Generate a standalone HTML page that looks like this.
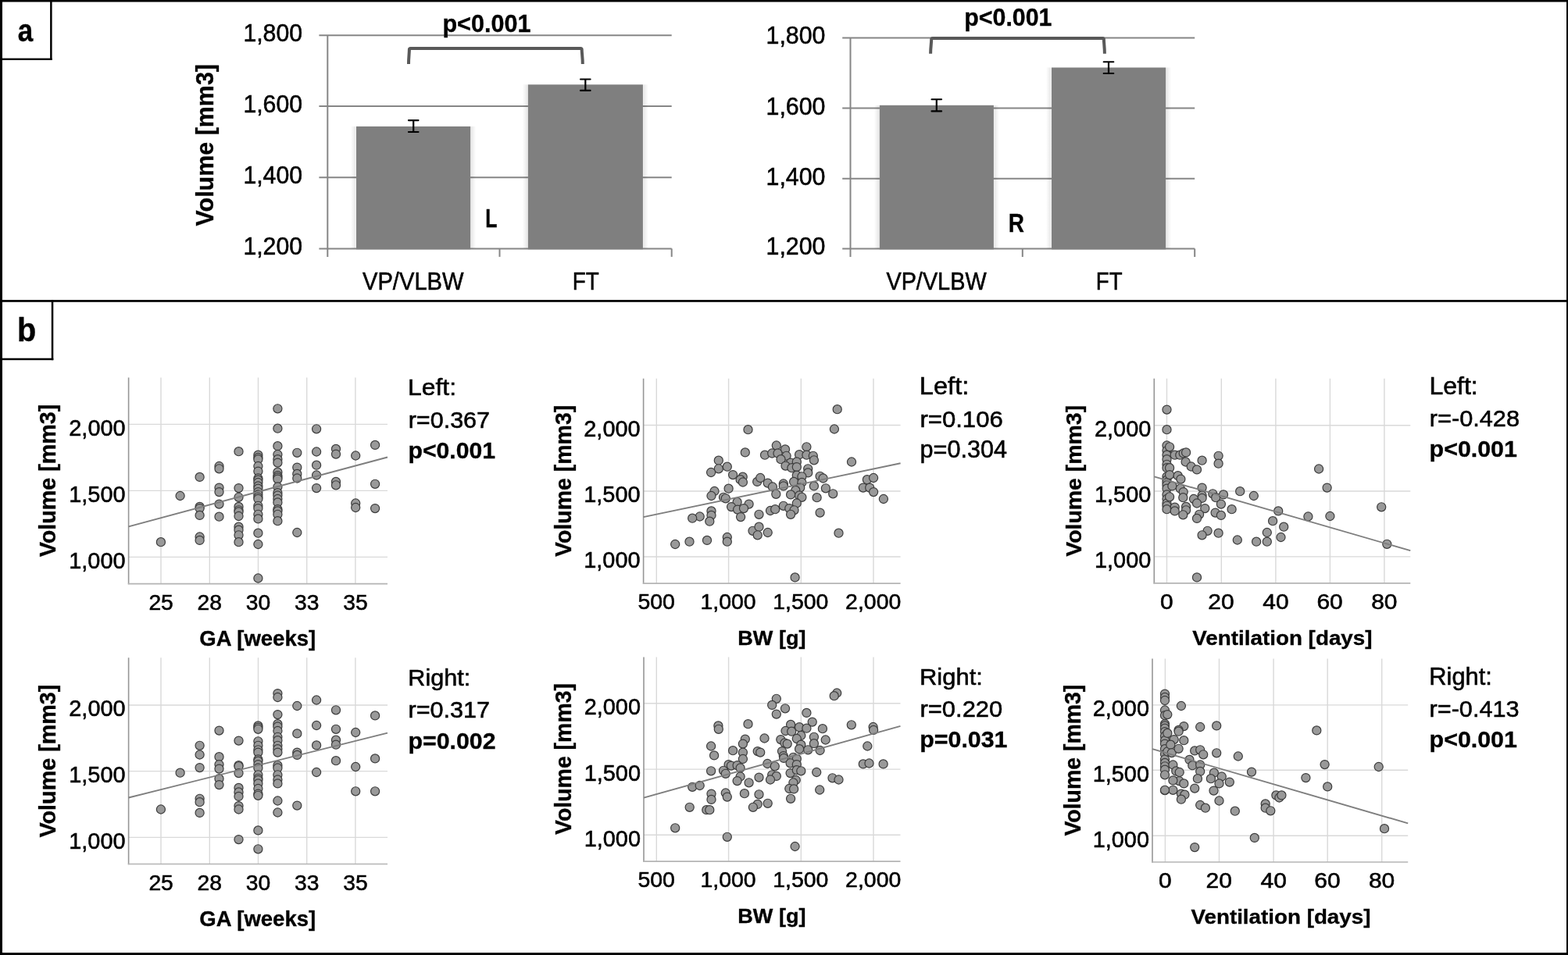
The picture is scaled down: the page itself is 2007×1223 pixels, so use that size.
<!DOCTYPE html>
<html><head><meta charset="utf-8"><title>Figure</title>
<style>html,body{margin:0;padding:0;background:#fff;width:2007px;height:1223px;overflow:hidden;} svg{display:block;} text{font-family:"Liberation Sans", Arial, sans-serif;} text[font-weight=normal]{stroke:#000;stroke-width:0.55px;} text[font-weight=bold]{stroke:#000;stroke-width:0.35px;}</style>
</head><body>
<svg width="2007" height="1223" viewBox="0 0 2007 1223">
<defs>
<linearGradient id="shl" x1="0" x2="1" y1="0" y2="0"><stop offset="0" stop-color="#000" stop-opacity="0"/><stop offset="0.85" stop-color="#000" stop-opacity="0.09"/><stop offset="1" stop-color="#000" stop-opacity="0.02"/></linearGradient>
<linearGradient id="shr" x1="1" x2="0" y1="0" y2="0"><stop offset="0" stop-color="#000" stop-opacity="0"/><stop offset="0.85" stop-color="#000" stop-opacity="0.09"/><stop offset="1" stop-color="#000" stop-opacity="0.02"/></linearGradient>
</defs>
<rect x="0" y="0" width="2007" height="1223" fill="#fff"/>
<rect x="0.00" y="0.00" width="2007.00" height="2.50" fill="#000"/>
<rect x="0.00" y="0.00" width="3.00" height="1223.00" fill="#000"/>
<rect x="2005.00" y="0.00" width="2.00" height="1223.00" fill="#000"/>
<rect x="0.00" y="1220.00" width="2007.00" height="3.00" fill="#000"/>
<rect x="0.00" y="384.10" width="2007.00" height="2.70" fill="#000"/>
<rect x="64.10" y="0.00" width="2.50" height="77.00" fill="#000"/>
<rect x="0.00" y="74.60" width="66.60" height="2.40" fill="#000"/>
<rect x="65.80" y="384.10" width="2.50" height="77.10" fill="#000"/>
<rect x="0.00" y="458.70" width="68.30" height="2.50" fill="#000"/>
<line x1="408.40" y1="45.20" x2="859.70" y2="45.20" stroke="#868686" stroke-width="2.0" stroke-linecap="butt"/>
<line x1="408.40" y1="136.10" x2="859.70" y2="136.10" stroke="#868686" stroke-width="2.0" stroke-linecap="butt"/>
<line x1="408.40" y1="227.30" x2="859.70" y2="227.30" stroke="#868686" stroke-width="2.0" stroke-linecap="butt"/>
<line x1="408.40" y1="318.40" x2="859.70" y2="318.40" stroke="#868686" stroke-width="2.0" stroke-linecap="butt"/>
<line x1="419.30" y1="45.20" x2="419.30" y2="328.90" stroke="#868686" stroke-width="2.0" stroke-linecap="butt"/>
<line x1="639.50" y1="318.40" x2="639.50" y2="328.90" stroke="#868686" stroke-width="2.0" stroke-linecap="butt"/>
<line x1="859.70" y1="318.40" x2="859.70" y2="328.90" stroke="#868686" stroke-width="2.0" stroke-linecap="butt"/>
<rect x="449.00" y="161.90" width="7" height="156.50" fill="url(#shl)"/>
<rect x="602.20" y="161.90" width="7" height="156.50" fill="url(#shr)"/>
<rect x="456.00" y="161.90" width="146.20" height="157.40" fill="#7f7f7f"/>
<rect x="668.80" y="108.30" width="7" height="210.10" fill="url(#shl)"/>
<rect x="822.90" y="108.30" width="7" height="210.10" fill="url(#shr)"/>
<rect x="675.80" y="108.30" width="147.10" height="211.00" fill="#7f7f7f"/>
<line x1="529.20" y1="154.10" x2="529.20" y2="169.00" stroke="#000" stroke-width="2.2" stroke-linecap="butt"/>
<line x1="522.90" y1="154.10" x2="535.50" y2="154.10" stroke="#000" stroke-width="2.1" stroke-linecap="round"/>
<line x1="522.90" y1="169.00" x2="535.50" y2="169.00" stroke="#000" stroke-width="2.1" stroke-linecap="round"/>
<line x1="749.30" y1="101.50" x2="749.30" y2="115.90" stroke="#000" stroke-width="2.2" stroke-linecap="butt"/>
<line x1="743.00" y1="101.50" x2="755.60" y2="101.50" stroke="#000" stroke-width="2.1" stroke-linecap="round"/>
<line x1="743.00" y1="115.90" x2="755.60" y2="115.90" stroke="#000" stroke-width="2.1" stroke-linecap="round"/>
<path d="M523.00,81.90 C523.00,73.90 523.90,68.00 523.90,63.60 Q523.90,62.00 525.50,62.00 L743.10,62.00 Q744.70,62.00 744.70,63.60 C744.70,68.00 745.80,73.90 745.80,81.90" fill="none" stroke="#595959" stroke-width="4"/>
<line x1="1078.20" y1="48.40" x2="1529.20" y2="48.40" stroke="#868686" stroke-width="2.0" stroke-linecap="butt"/>
<line x1="1078.20" y1="138.60" x2="1529.20" y2="138.60" stroke="#868686" stroke-width="2.0" stroke-linecap="butt"/>
<line x1="1078.20" y1="228.80" x2="1529.20" y2="228.80" stroke="#868686" stroke-width="2.0" stroke-linecap="butt"/>
<line x1="1078.20" y1="318.50" x2="1529.20" y2="318.50" stroke="#868686" stroke-width="2.0" stroke-linecap="butt"/>
<line x1="1088.50" y1="48.40" x2="1088.50" y2="329.00" stroke="#868686" stroke-width="2.0" stroke-linecap="butt"/>
<line x1="1308.80" y1="318.50" x2="1308.80" y2="329.00" stroke="#868686" stroke-width="2.0" stroke-linecap="butt"/>
<line x1="1529.20" y1="318.50" x2="1529.20" y2="329.00" stroke="#868686" stroke-width="2.0" stroke-linecap="butt"/>
<rect x="1118.80" y="134.80" width="7" height="183.70" fill="url(#shl)"/>
<rect x="1271.90" y="134.80" width="7" height="183.70" fill="url(#shr)"/>
<rect x="1125.80" y="134.80" width="146.10" height="184.60" fill="#7f7f7f"/>
<rect x="1339.00" y="86.50" width="7" height="232.00" fill="url(#shl)"/>
<rect x="1492.20" y="86.50" width="7" height="232.00" fill="url(#shr)"/>
<rect x="1346.00" y="86.50" width="146.20" height="232.90" fill="#7f7f7f"/>
<line x1="1198.80" y1="127.20" x2="1198.80" y2="142.40" stroke="#000" stroke-width="2.2" stroke-linecap="butt"/>
<line x1="1192.50" y1="127.20" x2="1205.10" y2="127.20" stroke="#000" stroke-width="2.1" stroke-linecap="round"/>
<line x1="1192.50" y1="142.40" x2="1205.10" y2="142.40" stroke="#000" stroke-width="2.1" stroke-linecap="round"/>
<line x1="1419.00" y1="79.20" x2="1419.00" y2="94.00" stroke="#000" stroke-width="2.2" stroke-linecap="butt"/>
<line x1="1412.70" y1="79.20" x2="1425.30" y2="79.20" stroke="#000" stroke-width="2.1" stroke-linecap="round"/>
<line x1="1412.70" y1="94.00" x2="1425.30" y2="94.00" stroke="#000" stroke-width="2.1" stroke-linecap="round"/>
<path d="M1191.10,68.80 C1191.10,60.80 1192.20,55.00 1192.20,50.60 Q1192.20,49.00 1193.80,49.00 L1411.30,49.00 Q1412.90,49.00 1412.90,50.60 C1412.90,55.00 1413.90,60.80 1413.90,68.80" fill="none" stroke="#595959" stroke-width="4"/>
<line x1="206.00" y1="483.50" x2="206.00" y2="747.60" stroke="#d9d9d9" stroke-width="1.4" stroke-linecap="butt"/>
<line x1="268.30" y1="483.50" x2="268.30" y2="747.60" stroke="#d9d9d9" stroke-width="1.4" stroke-linecap="butt"/>
<line x1="330.50" y1="483.50" x2="330.50" y2="747.60" stroke="#d9d9d9" stroke-width="1.4" stroke-linecap="butt"/>
<line x1="392.70" y1="483.50" x2="392.70" y2="747.60" stroke="#d9d9d9" stroke-width="1.4" stroke-linecap="butt"/>
<line x1="454.90" y1="483.50" x2="454.90" y2="747.60" stroke="#d9d9d9" stroke-width="1.4" stroke-linecap="butt"/>
<line x1="164.60" y1="543.40" x2="496.00" y2="543.40" stroke="#d9d9d9" stroke-width="1.4" stroke-linecap="butt"/>
<line x1="164.60" y1="628.40" x2="496.00" y2="628.40" stroke="#d9d9d9" stroke-width="1.4" stroke-linecap="butt"/>
<line x1="164.60" y1="713.40" x2="496.00" y2="713.40" stroke="#d9d9d9" stroke-width="1.4" stroke-linecap="butt"/>
<line x1="164.60" y1="483.50" x2="164.60" y2="748.30" stroke="#969696" stroke-width="1.6" stroke-linecap="butt"/>
<line x1="163.80" y1="747.60" x2="496.00" y2="747.60" stroke="#b4b4b4" stroke-width="1.7" stroke-linecap="butt"/>
<circle cx="205.9" cy="694.2" r="5.55" fill="#999" stroke="#3c3c3c" stroke-width="1.2"/>
<circle cx="230.6" cy="635.0" r="5.55" fill="#999" stroke="#3c3c3c" stroke-width="1.2"/>
<circle cx="255.6" cy="610.9" r="5.55" fill="#999" stroke="#3c3c3c" stroke-width="1.2"/>
<circle cx="255.6" cy="648.9" r="5.55" fill="#999" stroke="#3c3c3c" stroke-width="1.2"/>
<circle cx="255.6" cy="651.1" r="5.55" fill="#999" stroke="#3c3c3c" stroke-width="1.2"/>
<circle cx="255.6" cy="659.9" r="5.55" fill="#999" stroke="#3c3c3c" stroke-width="1.2"/>
<circle cx="255.6" cy="687.5" r="5.55" fill="#999" stroke="#3c3c3c" stroke-width="1.2"/>
<circle cx="255.6" cy="691.9" r="5.55" fill="#999" stroke="#3c3c3c" stroke-width="1.2"/>
<circle cx="280.5" cy="597.0" r="5.55" fill="#999" stroke="#3c3c3c" stroke-width="1.2"/>
<circle cx="280.5" cy="600.3" r="5.55" fill="#999" stroke="#3c3c3c" stroke-width="1.2"/>
<circle cx="280.5" cy="624.6" r="5.55" fill="#999" stroke="#3c3c3c" stroke-width="1.2"/>
<circle cx="280.5" cy="630.1" r="5.55" fill="#999" stroke="#3c3c3c" stroke-width="1.2"/>
<circle cx="280.5" cy="645.6" r="5.55" fill="#999" stroke="#3c3c3c" stroke-width="1.2"/>
<circle cx="280.5" cy="661.7" r="5.55" fill="#999" stroke="#3c3c3c" stroke-width="1.2"/>
<circle cx="305.5" cy="578.2" r="5.55" fill="#999" stroke="#3c3c3c" stroke-width="1.2"/>
<circle cx="305.5" cy="625.1" r="5.55" fill="#999" stroke="#3c3c3c" stroke-width="1.2"/>
<circle cx="305.5" cy="636.8" r="5.55" fill="#999" stroke="#3c3c3c" stroke-width="1.2"/>
<circle cx="305.5" cy="648.9" r="5.55" fill="#999" stroke="#3c3c3c" stroke-width="1.2"/>
<circle cx="305.5" cy="653.3" r="5.55" fill="#999" stroke="#3c3c3c" stroke-width="1.2"/>
<circle cx="305.5" cy="655.5" r="5.55" fill="#999" stroke="#3c3c3c" stroke-width="1.2"/>
<circle cx="305.5" cy="661.0" r="5.55" fill="#999" stroke="#3c3c3c" stroke-width="1.2"/>
<circle cx="305.5" cy="674.7" r="5.55" fill="#999" stroke="#3c3c3c" stroke-width="1.2"/>
<circle cx="305.5" cy="678.7" r="5.55" fill="#999" stroke="#3c3c3c" stroke-width="1.2"/>
<circle cx="305.5" cy="685.3" r="5.55" fill="#999" stroke="#3c3c3c" stroke-width="1.2"/>
<circle cx="305.5" cy="694.2" r="5.55" fill="#999" stroke="#3c3c3c" stroke-width="1.2"/>
<circle cx="330.4" cy="582.7" r="5.55" fill="#999" stroke="#3c3c3c" stroke-width="1.2"/>
<circle cx="330.4" cy="586.0" r="5.55" fill="#999" stroke="#3c3c3c" stroke-width="1.2"/>
<circle cx="330.4" cy="588.2" r="5.55" fill="#999" stroke="#3c3c3c" stroke-width="1.2"/>
<circle cx="330.4" cy="597.0" r="5.55" fill="#999" stroke="#3c3c3c" stroke-width="1.2"/>
<circle cx="330.4" cy="603.6" r="5.55" fill="#999" stroke="#3c3c3c" stroke-width="1.2"/>
<circle cx="330.4" cy="612.5" r="5.55" fill="#999" stroke="#3c3c3c" stroke-width="1.2"/>
<circle cx="330.4" cy="614.7" r="5.55" fill="#999" stroke="#3c3c3c" stroke-width="1.2"/>
<circle cx="330.4" cy="618.0" r="5.55" fill="#999" stroke="#3c3c3c" stroke-width="1.2"/>
<circle cx="330.4" cy="622.4" r="5.55" fill="#999" stroke="#3c3c3c" stroke-width="1.2"/>
<circle cx="330.4" cy="625.7" r="5.55" fill="#999" stroke="#3c3c3c" stroke-width="1.2"/>
<circle cx="330.4" cy="630.1" r="5.55" fill="#999" stroke="#3c3c3c" stroke-width="1.2"/>
<circle cx="330.4" cy="633.4" r="5.55" fill="#999" stroke="#3c3c3c" stroke-width="1.2"/>
<circle cx="330.4" cy="636.8" r="5.55" fill="#999" stroke="#3c3c3c" stroke-width="1.2"/>
<circle cx="330.4" cy="639.0" r="5.55" fill="#999" stroke="#3c3c3c" stroke-width="1.2"/>
<circle cx="330.4" cy="647.8" r="5.55" fill="#999" stroke="#3c3c3c" stroke-width="1.2"/>
<circle cx="330.4" cy="651.1" r="5.55" fill="#999" stroke="#3c3c3c" stroke-width="1.2"/>
<circle cx="330.4" cy="658.8" r="5.55" fill="#999" stroke="#3c3c3c" stroke-width="1.2"/>
<circle cx="330.4" cy="664.4" r="5.55" fill="#999" stroke="#3c3c3c" stroke-width="1.2"/>
<circle cx="330.4" cy="682.7" r="5.55" fill="#999" stroke="#3c3c3c" stroke-width="1.2"/>
<circle cx="330.4" cy="697.0" r="5.55" fill="#999" stroke="#3c3c3c" stroke-width="1.2"/>
<circle cx="330.4" cy="740.5" r="5.55" fill="#999" stroke="#3c3c3c" stroke-width="1.2"/>
<circle cx="355.4" cy="523.3" r="5.55" fill="#999" stroke="#3c3c3c" stroke-width="1.2"/>
<circle cx="355.4" cy="548.7" r="5.55" fill="#999" stroke="#3c3c3c" stroke-width="1.2"/>
<circle cx="355.4" cy="571.2" r="5.55" fill="#999" stroke="#3c3c3c" stroke-width="1.2"/>
<circle cx="355.4" cy="582.0" r="5.55" fill="#999" stroke="#3c3c3c" stroke-width="1.2"/>
<circle cx="355.4" cy="588.2" r="5.55" fill="#999" stroke="#3c3c3c" stroke-width="1.2"/>
<circle cx="355.4" cy="592.6" r="5.55" fill="#999" stroke="#3c3c3c" stroke-width="1.2"/>
<circle cx="355.4" cy="604.7" r="5.55" fill="#999" stroke="#3c3c3c" stroke-width="1.2"/>
<circle cx="355.4" cy="609.2" r="5.55" fill="#999" stroke="#3c3c3c" stroke-width="1.2"/>
<circle cx="355.4" cy="611.4" r="5.55" fill="#999" stroke="#3c3c3c" stroke-width="1.2"/>
<circle cx="355.4" cy="613.6" r="5.55" fill="#999" stroke="#3c3c3c" stroke-width="1.2"/>
<circle cx="355.4" cy="623.5" r="5.55" fill="#999" stroke="#3c3c3c" stroke-width="1.2"/>
<circle cx="355.4" cy="631.2" r="5.55" fill="#999" stroke="#3c3c3c" stroke-width="1.2"/>
<circle cx="355.4" cy="634.5" r="5.55" fill="#999" stroke="#3c3c3c" stroke-width="1.2"/>
<circle cx="355.4" cy="639.0" r="5.55" fill="#999" stroke="#3c3c3c" stroke-width="1.2"/>
<circle cx="355.4" cy="643.4" r="5.55" fill="#999" stroke="#3c3c3c" stroke-width="1.2"/>
<circle cx="355.4" cy="652.2" r="5.55" fill="#999" stroke="#3c3c3c" stroke-width="1.2"/>
<circle cx="355.4" cy="654.4" r="5.55" fill="#999" stroke="#3c3c3c" stroke-width="1.2"/>
<circle cx="355.4" cy="658.8" r="5.55" fill="#999" stroke="#3c3c3c" stroke-width="1.2"/>
<circle cx="355.4" cy="667.2" r="5.55" fill="#999" stroke="#3c3c3c" stroke-width="1.2"/>
<circle cx="380.3" cy="579.8" r="5.55" fill="#999" stroke="#3c3c3c" stroke-width="1.2"/>
<circle cx="380.3" cy="598.6" r="5.55" fill="#999" stroke="#3c3c3c" stroke-width="1.2"/>
<circle cx="380.3" cy="606.9" r="5.55" fill="#999" stroke="#3c3c3c" stroke-width="1.2"/>
<circle cx="380.3" cy="612.5" r="5.55" fill="#999" stroke="#3c3c3c" stroke-width="1.2"/>
<circle cx="380.3" cy="682.0" r="5.55" fill="#999" stroke="#3c3c3c" stroke-width="1.2"/>
<circle cx="405.1" cy="549.3" r="5.55" fill="#999" stroke="#3c3c3c" stroke-width="1.2"/>
<circle cx="405.1" cy="578.5" r="5.55" fill="#999" stroke="#3c3c3c" stroke-width="1.2"/>
<circle cx="405.1" cy="595.7" r="5.55" fill="#999" stroke="#3c3c3c" stroke-width="1.2"/>
<circle cx="405.1" cy="608.5" r="5.55" fill="#999" stroke="#3c3c3c" stroke-width="1.2"/>
<circle cx="405.1" cy="625.1" r="5.55" fill="#999" stroke="#3c3c3c" stroke-width="1.2"/>
<circle cx="430.0" cy="574.9" r="5.55" fill="#999" stroke="#3c3c3c" stroke-width="1.2"/>
<circle cx="430.0" cy="581.6" r="5.55" fill="#999" stroke="#3c3c3c" stroke-width="1.2"/>
<circle cx="430.0" cy="616.9" r="5.55" fill="#999" stroke="#3c3c3c" stroke-width="1.2"/>
<circle cx="430.0" cy="621.3" r="5.55" fill="#999" stroke="#3c3c3c" stroke-width="1.2"/>
<circle cx="455.2" cy="583.5" r="5.55" fill="#999" stroke="#3c3c3c" stroke-width="1.2"/>
<circle cx="455.2" cy="644.5" r="5.55" fill="#999" stroke="#3c3c3c" stroke-width="1.2"/>
<circle cx="455.2" cy="650.0" r="5.55" fill="#999" stroke="#3c3c3c" stroke-width="1.2"/>
<circle cx="480.1" cy="569.9" r="5.55" fill="#999" stroke="#3c3c3c" stroke-width="1.2"/>
<circle cx="480.1" cy="619.8" r="5.55" fill="#999" stroke="#3c3c3c" stroke-width="1.2"/>
<circle cx="480.1" cy="651.1" r="5.55" fill="#999" stroke="#3c3c3c" stroke-width="1.2"/>
<line x1="164.60" y1="674.30" x2="496.00" y2="585.50" stroke="#7e7e7e" stroke-width="1.9" stroke-linecap="butt"/>
<line x1="840.30" y1="484.80" x2="840.30" y2="747.10" stroke="#d9d9d9" stroke-width="1.4" stroke-linecap="butt"/>
<line x1="932.60" y1="484.80" x2="932.60" y2="747.10" stroke="#d9d9d9" stroke-width="1.4" stroke-linecap="butt"/>
<line x1="1025.30" y1="484.80" x2="1025.30" y2="747.10" stroke="#d9d9d9" stroke-width="1.4" stroke-linecap="butt"/>
<line x1="1118.00" y1="484.80" x2="1118.00" y2="747.10" stroke="#d9d9d9" stroke-width="1.4" stroke-linecap="butt"/>
<line x1="823.60" y1="544.50" x2="1152.60" y2="544.50" stroke="#d9d9d9" stroke-width="1.4" stroke-linecap="butt"/>
<line x1="823.60" y1="629.00" x2="1152.60" y2="629.00" stroke="#d9d9d9" stroke-width="1.4" stroke-linecap="butt"/>
<line x1="823.60" y1="713.00" x2="1152.60" y2="713.00" stroke="#d9d9d9" stroke-width="1.4" stroke-linecap="butt"/>
<line x1="823.60" y1="484.80" x2="823.60" y2="747.80" stroke="#969696" stroke-width="1.6" stroke-linecap="butt"/>
<line x1="822.80" y1="747.10" x2="1152.60" y2="747.10" stroke="#b4b4b4" stroke-width="1.7" stroke-linecap="butt"/>
<circle cx="1071.7" cy="524.2" r="5.55" fill="#999" stroke="#3c3c3c" stroke-width="1.2"/>
<circle cx="1067.9" cy="549.5" r="5.55" fill="#999" stroke="#3c3c3c" stroke-width="1.2"/>
<circle cx="957.5" cy="550.2" r="5.55" fill="#999" stroke="#3c3c3c" stroke-width="1.2"/>
<circle cx="953.8" cy="579.4" r="5.55" fill="#999" stroke="#3c3c3c" stroke-width="1.2"/>
<circle cx="993.8" cy="570.5" r="5.55" fill="#999" stroke="#3c3c3c" stroke-width="1.2"/>
<circle cx="1005.0" cy="575.4" r="5.55" fill="#999" stroke="#3c3c3c" stroke-width="1.2"/>
<circle cx="1032.4" cy="572.3" r="5.55" fill="#999" stroke="#3c3c3c" stroke-width="1.2"/>
<circle cx="979.0" cy="582.7" r="5.55" fill="#999" stroke="#3c3c3c" stroke-width="1.2"/>
<circle cx="988.2" cy="580.5" r="5.55" fill="#999" stroke="#3c3c3c" stroke-width="1.2"/>
<circle cx="995.5" cy="580.5" r="5.55" fill="#999" stroke="#3c3c3c" stroke-width="1.2"/>
<circle cx="1006.6" cy="583.8" r="5.55" fill="#999" stroke="#3c3c3c" stroke-width="1.2"/>
<circle cx="999.5" cy="588.2" r="5.55" fill="#999" stroke="#3c3c3c" stroke-width="1.2"/>
<circle cx="1023.1" cy="582.2" r="5.55" fill="#999" stroke="#3c3c3c" stroke-width="1.2"/>
<circle cx="1032.4" cy="582.7" r="5.55" fill="#999" stroke="#3c3c3c" stroke-width="1.2"/>
<circle cx="1040.8" cy="583.8" r="5.55" fill="#999" stroke="#3c3c3c" stroke-width="1.2"/>
<circle cx="1041.9" cy="589.3" r="5.55" fill="#999" stroke="#3c3c3c" stroke-width="1.2"/>
<circle cx="1090.0" cy="591.5" r="5.55" fill="#999" stroke="#3c3c3c" stroke-width="1.2"/>
<circle cx="919.8" cy="589.7" r="5.55" fill="#999" stroke="#3c3c3c" stroke-width="1.2"/>
<circle cx="919.8" cy="600.3" r="5.55" fill="#999" stroke="#3c3c3c" stroke-width="1.2"/>
<circle cx="930.8" cy="597.7" r="5.55" fill="#999" stroke="#3c3c3c" stroke-width="1.2"/>
<circle cx="910.1" cy="605.0" r="5.55" fill="#999" stroke="#3c3c3c" stroke-width="1.2"/>
<circle cx="938.1" cy="608.1" r="5.55" fill="#999" stroke="#3c3c3c" stroke-width="1.2"/>
<circle cx="950.7" cy="610.7" r="5.55" fill="#999" stroke="#3c3c3c" stroke-width="1.2"/>
<circle cx="947.6" cy="614.2" r="5.55" fill="#999" stroke="#3c3c3c" stroke-width="1.2"/>
<circle cx="950.9" cy="617.5" r="5.55" fill="#999" stroke="#3c3c3c" stroke-width="1.2"/>
<circle cx="969.2" cy="616.9" r="5.55" fill="#999" stroke="#3c3c3c" stroke-width="1.2"/>
<circle cx="973.2" cy="612.0" r="5.55" fill="#999" stroke="#3c3c3c" stroke-width="1.2"/>
<circle cx="982.7" cy="618.6" r="5.55" fill="#999" stroke="#3c3c3c" stroke-width="1.2"/>
<circle cx="988.9" cy="623.5" r="5.55" fill="#999" stroke="#3c3c3c" stroke-width="1.2"/>
<circle cx="1002.8" cy="619.5" r="5.55" fill="#999" stroke="#3c3c3c" stroke-width="1.2"/>
<circle cx="1002.8" cy="622.4" r="5.55" fill="#999" stroke="#3c3c3c" stroke-width="1.2"/>
<circle cx="1012.1" cy="592.6" r="5.55" fill="#999" stroke="#3c3c3c" stroke-width="1.2"/>
<circle cx="1019.8" cy="591.5" r="5.55" fill="#999" stroke="#3c3c3c" stroke-width="1.2"/>
<circle cx="1005.5" cy="596.6" r="5.55" fill="#999" stroke="#3c3c3c" stroke-width="1.2"/>
<circle cx="1013.4" cy="599.2" r="5.55" fill="#999" stroke="#3c3c3c" stroke-width="1.2"/>
<circle cx="1019.8" cy="598.1" r="5.55" fill="#999" stroke="#3c3c3c" stroke-width="1.2"/>
<circle cx="1034.2" cy="600.3" r="5.55" fill="#999" stroke="#3c3c3c" stroke-width="1.2"/>
<circle cx="1034.2" cy="605.4" r="5.55" fill="#999" stroke="#3c3c3c" stroke-width="1.2"/>
<circle cx="1019.8" cy="608.7" r="5.55" fill="#999" stroke="#3c3c3c" stroke-width="1.2"/>
<circle cx="1026.4" cy="610.3" r="5.55" fill="#999" stroke="#3c3c3c" stroke-width="1.2"/>
<circle cx="1016.1" cy="616.9" r="5.55" fill="#999" stroke="#3c3c3c" stroke-width="1.2"/>
<circle cx="1026.4" cy="618.0" r="5.55" fill="#999" stroke="#3c3c3c" stroke-width="1.2"/>
<circle cx="1024.2" cy="624.6" r="5.55" fill="#999" stroke="#3c3c3c" stroke-width="1.2"/>
<circle cx="1018.3" cy="627.9" r="5.55" fill="#999" stroke="#3c3c3c" stroke-width="1.2"/>
<circle cx="1049.6" cy="609.8" r="5.55" fill="#999" stroke="#3c3c3c" stroke-width="1.2"/>
<circle cx="1053.6" cy="612.5" r="5.55" fill="#999" stroke="#3c3c3c" stroke-width="1.2"/>
<circle cx="1041.9" cy="622.4" r="5.55" fill="#999" stroke="#3c3c3c" stroke-width="1.2"/>
<circle cx="1056.9" cy="625.3" r="5.55" fill="#999" stroke="#3c3c3c" stroke-width="1.2"/>
<circle cx="1066.2" cy="632.3" r="5.55" fill="#999" stroke="#3c3c3c" stroke-width="1.2"/>
<circle cx="1045.6" cy="637.2" r="5.55" fill="#999" stroke="#3c3c3c" stroke-width="1.2"/>
<circle cx="1109.9" cy="614.2" r="5.55" fill="#999" stroke="#3c3c3c" stroke-width="1.2"/>
<circle cx="1118.1" cy="612.0" r="5.55" fill="#999" stroke="#3c3c3c" stroke-width="1.2"/>
<circle cx="1104.8" cy="624.6" r="5.55" fill="#999" stroke="#3c3c3c" stroke-width="1.2"/>
<circle cx="1113.2" cy="624.6" r="5.55" fill="#999" stroke="#3c3c3c" stroke-width="1.2"/>
<circle cx="1118.1" cy="630.1" r="5.55" fill="#999" stroke="#3c3c3c" stroke-width="1.2"/>
<circle cx="1130.9" cy="639.0" r="5.55" fill="#999" stroke="#3c3c3c" stroke-width="1.2"/>
<circle cx="914.5" cy="629.0" r="5.55" fill="#999" stroke="#3c3c3c" stroke-width="1.2"/>
<circle cx="932.6" cy="625.7" r="5.55" fill="#999" stroke="#3c3c3c" stroke-width="1.2"/>
<circle cx="910.5" cy="635.0" r="5.55" fill="#999" stroke="#3c3c3c" stroke-width="1.2"/>
<circle cx="926.0" cy="636.8" r="5.55" fill="#999" stroke="#3c3c3c" stroke-width="1.2"/>
<circle cx="928.8" cy="638.3" r="5.55" fill="#999" stroke="#3c3c3c" stroke-width="1.2"/>
<circle cx="943.6" cy="642.9" r="5.55" fill="#999" stroke="#3c3c3c" stroke-width="1.2"/>
<circle cx="958.6" cy="645.6" r="5.55" fill="#999" stroke="#3c3c3c" stroke-width="1.2"/>
<circle cx="936.1" cy="649.1" r="5.55" fill="#999" stroke="#3c3c3c" stroke-width="1.2"/>
<circle cx="944.1" cy="652.6" r="5.55" fill="#999" stroke="#3c3c3c" stroke-width="1.2"/>
<circle cx="952.0" cy="651.1" r="5.55" fill="#999" stroke="#3c3c3c" stroke-width="1.2"/>
<circle cx="948.1" cy="662.1" r="5.55" fill="#999" stroke="#3c3c3c" stroke-width="1.2"/>
<circle cx="993.3" cy="632.8" r="5.55" fill="#999" stroke="#3c3c3c" stroke-width="1.2"/>
<circle cx="1012.1" cy="633.4" r="5.55" fill="#999" stroke="#3c3c3c" stroke-width="1.2"/>
<circle cx="1023.1" cy="634.5" r="5.55" fill="#999" stroke="#3c3c3c" stroke-width="1.2"/>
<circle cx="1026.4" cy="636.8" r="5.55" fill="#999" stroke="#3c3c3c" stroke-width="1.2"/>
<circle cx="1019.8" cy="644.5" r="5.55" fill="#999" stroke="#3c3c3c" stroke-width="1.2"/>
<circle cx="1002.8" cy="647.8" r="5.55" fill="#999" stroke="#3c3c3c" stroke-width="1.2"/>
<circle cx="1010.3" cy="651.1" r="5.55" fill="#999" stroke="#3c3c3c" stroke-width="1.2"/>
<circle cx="1016.5" cy="653.3" r="5.55" fill="#999" stroke="#3c3c3c" stroke-width="1.2"/>
<circle cx="1012.1" cy="658.8" r="5.55" fill="#999" stroke="#3c3c3c" stroke-width="1.2"/>
<circle cx="986.0" cy="654.0" r="5.55" fill="#999" stroke="#3c3c3c" stroke-width="1.2"/>
<circle cx="992.2" cy="652.2" r="5.55" fill="#999" stroke="#3c3c3c" stroke-width="1.2"/>
<circle cx="971.5" cy="658.8" r="5.55" fill="#999" stroke="#3c3c3c" stroke-width="1.2"/>
<circle cx="1049.6" cy="656.6" r="5.55" fill="#999" stroke="#3c3c3c" stroke-width="1.2"/>
<circle cx="910.5" cy="654.4" r="5.55" fill="#999" stroke="#3c3c3c" stroke-width="1.2"/>
<circle cx="910.5" cy="659.9" r="5.55" fill="#999" stroke="#3c3c3c" stroke-width="1.2"/>
<circle cx="908.3" cy="667.7" r="5.55" fill="#999" stroke="#3c3c3c" stroke-width="1.2"/>
<circle cx="895.7" cy="661.5" r="5.55" fill="#999" stroke="#3c3c3c" stroke-width="1.2"/>
<circle cx="886.2" cy="663.7" r="5.55" fill="#999" stroke="#3c3c3c" stroke-width="1.2"/>
<circle cx="963.5" cy="679.8" r="5.55" fill="#999" stroke="#3c3c3c" stroke-width="1.2"/>
<circle cx="971.5" cy="674.7" r="5.55" fill="#999" stroke="#3c3c3c" stroke-width="1.2"/>
<circle cx="969.7" cy="685.3" r="5.55" fill="#999" stroke="#3c3c3c" stroke-width="1.2"/>
<circle cx="982.7" cy="682.0" r="5.55" fill="#999" stroke="#3c3c3c" stroke-width="1.2"/>
<circle cx="1073.5" cy="682.7" r="5.55" fill="#999" stroke="#3c3c3c" stroke-width="1.2"/>
<circle cx="864.2" cy="697.0" r="5.55" fill="#999" stroke="#3c3c3c" stroke-width="1.2"/>
<circle cx="882.5" cy="693.7" r="5.55" fill="#999" stroke="#3c3c3c" stroke-width="1.2"/>
<circle cx="905.0" cy="691.9" r="5.55" fill="#999" stroke="#3c3c3c" stroke-width="1.2"/>
<circle cx="930.8" cy="688.0" r="5.55" fill="#999" stroke="#3c3c3c" stroke-width="1.2"/>
<circle cx="930.8" cy="693.7" r="5.55" fill="#999" stroke="#3c3c3c" stroke-width="1.2"/>
<circle cx="1017.6" cy="739.4" r="5.55" fill="#999" stroke="#3c3c3c" stroke-width="1.2"/>
<line x1="823.60" y1="662.10" x2="1152.60" y2="593.30" stroke="#7e7e7e" stroke-width="1.9" stroke-linecap="butt"/>
<line x1="1493.50" y1="484.80" x2="1493.50" y2="746.80" stroke="#d9d9d9" stroke-width="1.4" stroke-linecap="butt"/>
<line x1="1563.30" y1="484.80" x2="1563.30" y2="746.80" stroke="#d9d9d9" stroke-width="1.4" stroke-linecap="butt"/>
<line x1="1632.90" y1="484.80" x2="1632.90" y2="746.80" stroke="#d9d9d9" stroke-width="1.4" stroke-linecap="butt"/>
<line x1="1702.40" y1="484.80" x2="1702.40" y2="746.80" stroke="#d9d9d9" stroke-width="1.4" stroke-linecap="butt"/>
<line x1="1771.90" y1="484.80" x2="1771.90" y2="746.80" stroke="#d9d9d9" stroke-width="1.4" stroke-linecap="butt"/>
<line x1="1477.30" y1="544.70" x2="1805.30" y2="544.70" stroke="#d9d9d9" stroke-width="1.4" stroke-linecap="butt"/>
<line x1="1477.30" y1="629.00" x2="1805.30" y2="629.00" stroke="#d9d9d9" stroke-width="1.4" stroke-linecap="butt"/>
<line x1="1477.30" y1="712.90" x2="1805.30" y2="712.90" stroke="#d9d9d9" stroke-width="1.4" stroke-linecap="butt"/>
<line x1="1477.30" y1="484.80" x2="1477.30" y2="747.50" stroke="#969696" stroke-width="1.6" stroke-linecap="butt"/>
<line x1="1476.50" y1="746.80" x2="1805.30" y2="746.80" stroke="#b4b4b4" stroke-width="1.7" stroke-linecap="butt"/>
<circle cx="1493.5" cy="524.6" r="5.55" fill="#999" stroke="#3c3c3c" stroke-width="1.2"/>
<circle cx="1493.5" cy="550.2" r="5.55" fill="#999" stroke="#3c3c3c" stroke-width="1.2"/>
<circle cx="1493.5" cy="570.5" r="5.55" fill="#999" stroke="#3c3c3c" stroke-width="1.2"/>
<circle cx="1493.5" cy="577.1" r="5.55" fill="#999" stroke="#3c3c3c" stroke-width="1.2"/>
<circle cx="1493.5" cy="582.7" r="5.55" fill="#999" stroke="#3c3c3c" stroke-width="1.2"/>
<circle cx="1493.5" cy="588.2" r="5.55" fill="#999" stroke="#3c3c3c" stroke-width="1.2"/>
<circle cx="1493.5" cy="594.8" r="5.55" fill="#999" stroke="#3c3c3c" stroke-width="1.2"/>
<circle cx="1493.5" cy="599.2" r="5.55" fill="#999" stroke="#3c3c3c" stroke-width="1.2"/>
<circle cx="1493.5" cy="610.3" r="5.55" fill="#999" stroke="#3c3c3c" stroke-width="1.2"/>
<circle cx="1493.5" cy="614.7" r="5.55" fill="#999" stroke="#3c3c3c" stroke-width="1.2"/>
<circle cx="1493.5" cy="618.0" r="5.55" fill="#999" stroke="#3c3c3c" stroke-width="1.2"/>
<circle cx="1493.5" cy="621.3" r="5.55" fill="#999" stroke="#3c3c3c" stroke-width="1.2"/>
<circle cx="1493.5" cy="625.7" r="5.55" fill="#999" stroke="#3c3c3c" stroke-width="1.2"/>
<circle cx="1493.5" cy="633.4" r="5.55" fill="#999" stroke="#3c3c3c" stroke-width="1.2"/>
<circle cx="1493.5" cy="639.0" r="5.55" fill="#999" stroke="#3c3c3c" stroke-width="1.2"/>
<circle cx="1493.5" cy="644.5" r="5.55" fill="#999" stroke="#3c3c3c" stroke-width="1.2"/>
<circle cx="1493.5" cy="647.8" r="5.55" fill="#999" stroke="#3c3c3c" stroke-width="1.2"/>
<circle cx="1493.5" cy="652.2" r="5.55" fill="#999" stroke="#3c3c3c" stroke-width="1.2"/>
<circle cx="1497.1" cy="572.3" r="5.55" fill="#999" stroke="#3c3c3c" stroke-width="1.2"/>
<circle cx="1497.1" cy="599.2" r="5.55" fill="#999" stroke="#3c3c3c" stroke-width="1.2"/>
<circle cx="1497.1" cy="608.1" r="5.55" fill="#999" stroke="#3c3c3c" stroke-width="1.2"/>
<circle cx="1497.1" cy="636.3" r="5.55" fill="#999" stroke="#3c3c3c" stroke-width="1.2"/>
<circle cx="1500.4" cy="622.4" r="5.55" fill="#999" stroke="#3c3c3c" stroke-width="1.2"/>
<circle cx="1503.7" cy="582.7" r="5.55" fill="#999" stroke="#3c3c3c" stroke-width="1.2"/>
<circle cx="1510.3" cy="582.7" r="5.55" fill="#999" stroke="#3c3c3c" stroke-width="1.2"/>
<circle cx="1514.7" cy="580.5" r="5.55" fill="#999" stroke="#3c3c3c" stroke-width="1.2"/>
<circle cx="1518.1" cy="579.4" r="5.55" fill="#999" stroke="#3c3c3c" stroke-width="1.2"/>
<circle cx="1517.6" cy="591.5" r="5.55" fill="#999" stroke="#3c3c3c" stroke-width="1.2"/>
<circle cx="1524.7" cy="597.5" r="5.55" fill="#999" stroke="#3c3c3c" stroke-width="1.2"/>
<circle cx="1532.0" cy="601.4" r="5.55" fill="#999" stroke="#3c3c3c" stroke-width="1.2"/>
<circle cx="1538.6" cy="589.7" r="5.55" fill="#999" stroke="#3c3c3c" stroke-width="1.2"/>
<circle cx="1559.6" cy="583.8" r="5.55" fill="#999" stroke="#3c3c3c" stroke-width="1.2"/>
<circle cx="1559.6" cy="593.7" r="5.55" fill="#999" stroke="#3c3c3c" stroke-width="1.2"/>
<circle cx="1507.7" cy="609.2" r="5.55" fill="#999" stroke="#3c3c3c" stroke-width="1.2"/>
<circle cx="1511.4" cy="613.6" r="5.55" fill="#999" stroke="#3c3c3c" stroke-width="1.2"/>
<circle cx="1510.8" cy="625.7" r="5.55" fill="#999" stroke="#3c3c3c" stroke-width="1.2"/>
<circle cx="1514.7" cy="630.1" r="5.55" fill="#999" stroke="#3c3c3c" stroke-width="1.2"/>
<circle cx="1514.3" cy="637.2" r="5.55" fill="#999" stroke="#3c3c3c" stroke-width="1.2"/>
<circle cx="1518.1" cy="648.9" r="5.55" fill="#999" stroke="#3c3c3c" stroke-width="1.2"/>
<circle cx="1518.1" cy="653.3" r="5.55" fill="#999" stroke="#3c3c3c" stroke-width="1.2"/>
<circle cx="1514.3" cy="659.3" r="5.55" fill="#999" stroke="#3c3c3c" stroke-width="1.2"/>
<circle cx="1503.7" cy="649.6" r="5.55" fill="#999" stroke="#3c3c3c" stroke-width="1.2"/>
<circle cx="1503.7" cy="654.4" r="5.55" fill="#999" stroke="#3c3c3c" stroke-width="1.2"/>
<circle cx="1538.6" cy="624.6" r="5.55" fill="#999" stroke="#3c3c3c" stroke-width="1.2"/>
<circle cx="1538.6" cy="634.5" r="5.55" fill="#999" stroke="#3c3c3c" stroke-width="1.2"/>
<circle cx="1538.6" cy="637.9" r="5.55" fill="#999" stroke="#3c3c3c" stroke-width="1.2"/>
<circle cx="1528.0" cy="639.0" r="5.55" fill="#999" stroke="#3c3c3c" stroke-width="1.2"/>
<circle cx="1532.0" cy="644.5" r="5.55" fill="#999" stroke="#3c3c3c" stroke-width="1.2"/>
<circle cx="1552.3" cy="632.3" r="5.55" fill="#999" stroke="#3c3c3c" stroke-width="1.2"/>
<circle cx="1556.2" cy="637.2" r="5.55" fill="#999" stroke="#3c3c3c" stroke-width="1.2"/>
<circle cx="1566.0" cy="633.4" r="5.55" fill="#999" stroke="#3c3c3c" stroke-width="1.2"/>
<circle cx="1562.9" cy="645.6" r="5.55" fill="#999" stroke="#3c3c3c" stroke-width="1.2"/>
<circle cx="1542.3" cy="651.1" r="5.55" fill="#999" stroke="#3c3c3c" stroke-width="1.2"/>
<circle cx="1555.6" cy="656.6" r="5.55" fill="#999" stroke="#3c3c3c" stroke-width="1.2"/>
<circle cx="1562.9" cy="659.9" r="5.55" fill="#999" stroke="#3c3c3c" stroke-width="1.2"/>
<circle cx="1535.1" cy="658.8" r="5.55" fill="#999" stroke="#3c3c3c" stroke-width="1.2"/>
<circle cx="1532.0" cy="663.9" r="5.55" fill="#999" stroke="#3c3c3c" stroke-width="1.2"/>
<circle cx="1576.6" cy="652.2" r="5.55" fill="#999" stroke="#3c3c3c" stroke-width="1.2"/>
<circle cx="1587.2" cy="629.2" r="5.55" fill="#999" stroke="#3c3c3c" stroke-width="1.2"/>
<circle cx="1604.8" cy="635.0" r="5.55" fill="#999" stroke="#3c3c3c" stroke-width="1.2"/>
<circle cx="1636.2" cy="654.4" r="5.55" fill="#999" stroke="#3c3c3c" stroke-width="1.2"/>
<circle cx="1629.1" cy="667.2" r="5.55" fill="#999" stroke="#3c3c3c" stroke-width="1.2"/>
<circle cx="1643.2" cy="674.7" r="5.55" fill="#999" stroke="#3c3c3c" stroke-width="1.2"/>
<circle cx="1621.8" cy="682.0" r="5.55" fill="#999" stroke="#3c3c3c" stroke-width="1.2"/>
<circle cx="1639.5" cy="688.0" r="5.55" fill="#999" stroke="#3c3c3c" stroke-width="1.2"/>
<circle cx="1621.8" cy="693.7" r="5.55" fill="#999" stroke="#3c3c3c" stroke-width="1.2"/>
<circle cx="1608.1" cy="693.7" r="5.55" fill="#999" stroke="#3c3c3c" stroke-width="1.2"/>
<circle cx="1583.8" cy="691.5" r="5.55" fill="#999" stroke="#3c3c3c" stroke-width="1.2"/>
<circle cx="1559.6" cy="682.7" r="5.55" fill="#999" stroke="#3c3c3c" stroke-width="1.2"/>
<circle cx="1545.6" cy="679.8" r="5.55" fill="#999" stroke="#3c3c3c" stroke-width="1.2"/>
<circle cx="1538.6" cy="685.3" r="5.55" fill="#999" stroke="#3c3c3c" stroke-width="1.2"/>
<circle cx="1674.4" cy="661.5" r="5.55" fill="#999" stroke="#3c3c3c" stroke-width="1.2"/>
<circle cx="1702.4" cy="661.0" r="5.55" fill="#999" stroke="#3c3c3c" stroke-width="1.2"/>
<circle cx="1688.1" cy="600.5" r="5.55" fill="#999" stroke="#3c3c3c" stroke-width="1.2"/>
<circle cx="1698.6" cy="624.6" r="5.55" fill="#999" stroke="#3c3c3c" stroke-width="1.2"/>
<circle cx="1768.2" cy="649.3" r="5.55" fill="#999" stroke="#3c3c3c" stroke-width="1.2"/>
<circle cx="1775.3" cy="696.8" r="5.55" fill="#999" stroke="#3c3c3c" stroke-width="1.2"/>
<circle cx="1532.0" cy="739.4" r="5.55" fill="#999" stroke="#3c3c3c" stroke-width="1.2"/>
<line x1="1477.30" y1="610.30" x2="1805.30" y2="705.20" stroke="#7e7e7e" stroke-width="1.9" stroke-linecap="butt"/>
<line x1="206.00" y1="842.30" x2="206.00" y2="1106.50" stroke="#d9d9d9" stroke-width="1.4" stroke-linecap="butt"/>
<line x1="268.30" y1="842.30" x2="268.30" y2="1106.50" stroke="#d9d9d9" stroke-width="1.4" stroke-linecap="butt"/>
<line x1="330.50" y1="842.30" x2="330.50" y2="1106.50" stroke="#d9d9d9" stroke-width="1.4" stroke-linecap="butt"/>
<line x1="392.70" y1="842.30" x2="392.70" y2="1106.50" stroke="#d9d9d9" stroke-width="1.4" stroke-linecap="butt"/>
<line x1="454.90" y1="842.30" x2="454.90" y2="1106.50" stroke="#d9d9d9" stroke-width="1.4" stroke-linecap="butt"/>
<line x1="164.60" y1="903.00" x2="496.00" y2="903.00" stroke="#d9d9d9" stroke-width="1.4" stroke-linecap="butt"/>
<line x1="164.60" y1="987.60" x2="496.00" y2="987.60" stroke="#d9d9d9" stroke-width="1.4" stroke-linecap="butt"/>
<line x1="164.60" y1="1072.40" x2="496.00" y2="1072.40" stroke="#d9d9d9" stroke-width="1.4" stroke-linecap="butt"/>
<line x1="164.60" y1="842.30" x2="164.60" y2="1107.20" stroke="#969696" stroke-width="1.6" stroke-linecap="butt"/>
<line x1="163.80" y1="1106.50" x2="496.00" y2="1106.50" stroke="#b4b4b4" stroke-width="1.7" stroke-linecap="butt"/>
<circle cx="205.9" cy="1036.5" r="5.55" fill="#999" stroke="#3c3c3c" stroke-width="1.2"/>
<circle cx="230.6" cy="989.7" r="5.55" fill="#999" stroke="#3c3c3c" stroke-width="1.2"/>
<circle cx="255.6" cy="954.8" r="5.55" fill="#999" stroke="#3c3c3c" stroke-width="1.2"/>
<circle cx="255.6" cy="966.5" r="5.55" fill="#999" stroke="#3c3c3c" stroke-width="1.2"/>
<circle cx="255.6" cy="983.1" r="5.55" fill="#999" stroke="#3c3c3c" stroke-width="1.2"/>
<circle cx="255.6" cy="1022.8" r="5.55" fill="#999" stroke="#3c3c3c" stroke-width="1.2"/>
<circle cx="255.6" cy="1027.2" r="5.55" fill="#999" stroke="#3c3c3c" stroke-width="1.2"/>
<circle cx="255.6" cy="1040.9" r="5.55" fill="#999" stroke="#3c3c3c" stroke-width="1.2"/>
<circle cx="280.5" cy="935.6" r="5.55" fill="#999" stroke="#3c3c3c" stroke-width="1.2"/>
<circle cx="280.5" cy="969.2" r="5.55" fill="#999" stroke="#3c3c3c" stroke-width="1.2"/>
<circle cx="280.5" cy="979.1" r="5.55" fill="#999" stroke="#3c3c3c" stroke-width="1.2"/>
<circle cx="280.5" cy="984.6" r="5.55" fill="#999" stroke="#3c3c3c" stroke-width="1.2"/>
<circle cx="280.5" cy="997.2" r="5.55" fill="#999" stroke="#3c3c3c" stroke-width="1.2"/>
<circle cx="280.5" cy="1005.1" r="5.55" fill="#999" stroke="#3c3c3c" stroke-width="1.2"/>
<circle cx="305.5" cy="948.6" r="5.55" fill="#999" stroke="#3c3c3c" stroke-width="1.2"/>
<circle cx="305.5" cy="980.2" r="5.55" fill="#999" stroke="#3c3c3c" stroke-width="1.2"/>
<circle cx="305.5" cy="981.3" r="5.55" fill="#999" stroke="#3c3c3c" stroke-width="1.2"/>
<circle cx="305.5" cy="990.1" r="5.55" fill="#999" stroke="#3c3c3c" stroke-width="1.2"/>
<circle cx="305.5" cy="1008.9" r="5.55" fill="#999" stroke="#3c3c3c" stroke-width="1.2"/>
<circle cx="305.5" cy="1014.4" r="5.55" fill="#999" stroke="#3c3c3c" stroke-width="1.2"/>
<circle cx="305.5" cy="1019.9" r="5.55" fill="#999" stroke="#3c3c3c" stroke-width="1.2"/>
<circle cx="305.5" cy="1032.1" r="5.55" fill="#999" stroke="#3c3c3c" stroke-width="1.2"/>
<circle cx="305.5" cy="1036.5" r="5.55" fill="#999" stroke="#3c3c3c" stroke-width="1.2"/>
<circle cx="305.5" cy="1075.1" r="5.55" fill="#999" stroke="#3c3c3c" stroke-width="1.2"/>
<circle cx="330.4" cy="929.4" r="5.55" fill="#999" stroke="#3c3c3c" stroke-width="1.2"/>
<circle cx="330.4" cy="931.6" r="5.55" fill="#999" stroke="#3c3c3c" stroke-width="1.2"/>
<circle cx="330.4" cy="933.8" r="5.55" fill="#999" stroke="#3c3c3c" stroke-width="1.2"/>
<circle cx="330.4" cy="949.3" r="5.55" fill="#999" stroke="#3c3c3c" stroke-width="1.2"/>
<circle cx="330.4" cy="954.8" r="5.55" fill="#999" stroke="#3c3c3c" stroke-width="1.2"/>
<circle cx="330.4" cy="960.3" r="5.55" fill="#999" stroke="#3c3c3c" stroke-width="1.2"/>
<circle cx="330.4" cy="963.6" r="5.55" fill="#999" stroke="#3c3c3c" stroke-width="1.2"/>
<circle cx="330.4" cy="972.5" r="5.55" fill="#999" stroke="#3c3c3c" stroke-width="1.2"/>
<circle cx="330.4" cy="974.7" r="5.55" fill="#999" stroke="#3c3c3c" stroke-width="1.2"/>
<circle cx="330.4" cy="979.1" r="5.55" fill="#999" stroke="#3c3c3c" stroke-width="1.2"/>
<circle cx="330.4" cy="983.5" r="5.55" fill="#999" stroke="#3c3c3c" stroke-width="1.2"/>
<circle cx="330.4" cy="992.3" r="5.55" fill="#999" stroke="#3c3c3c" stroke-width="1.2"/>
<circle cx="330.4" cy="996.8" r="5.55" fill="#999" stroke="#3c3c3c" stroke-width="1.2"/>
<circle cx="330.4" cy="999.0" r="5.55" fill="#999" stroke="#3c3c3c" stroke-width="1.2"/>
<circle cx="330.4" cy="1003.4" r="5.55" fill="#999" stroke="#3c3c3c" stroke-width="1.2"/>
<circle cx="330.4" cy="1010.0" r="5.55" fill="#999" stroke="#3c3c3c" stroke-width="1.2"/>
<circle cx="330.4" cy="1016.6" r="5.55" fill="#999" stroke="#3c3c3c" stroke-width="1.2"/>
<circle cx="330.4" cy="1018.8" r="5.55" fill="#999" stroke="#3c3c3c" stroke-width="1.2"/>
<circle cx="330.4" cy="1063.4" r="5.55" fill="#999" stroke="#3c3c3c" stroke-width="1.2"/>
<circle cx="330.4" cy="1087.3" r="5.55" fill="#999" stroke="#3c3c3c" stroke-width="1.2"/>
<circle cx="355.4" cy="888.1" r="5.55" fill="#999" stroke="#3c3c3c" stroke-width="1.2"/>
<circle cx="355.4" cy="893.0" r="5.55" fill="#999" stroke="#3c3c3c" stroke-width="1.2"/>
<circle cx="355.4" cy="915.1" r="5.55" fill="#999" stroke="#3c3c3c" stroke-width="1.2"/>
<circle cx="355.4" cy="927.2" r="5.55" fill="#999" stroke="#3c3c3c" stroke-width="1.2"/>
<circle cx="355.4" cy="930.5" r="5.55" fill="#999" stroke="#3c3c3c" stroke-width="1.2"/>
<circle cx="355.4" cy="936.0" r="5.55" fill="#999" stroke="#3c3c3c" stroke-width="1.2"/>
<circle cx="355.4" cy="943.8" r="5.55" fill="#999" stroke="#3c3c3c" stroke-width="1.2"/>
<circle cx="355.4" cy="948.2" r="5.55" fill="#999" stroke="#3c3c3c" stroke-width="1.2"/>
<circle cx="355.4" cy="954.8" r="5.55" fill="#999" stroke="#3c3c3c" stroke-width="1.2"/>
<circle cx="355.4" cy="959.2" r="5.55" fill="#999" stroke="#3c3c3c" stroke-width="1.2"/>
<circle cx="355.4" cy="963.6" r="5.55" fill="#999" stroke="#3c3c3c" stroke-width="1.2"/>
<circle cx="355.4" cy="980.2" r="5.55" fill="#999" stroke="#3c3c3c" stroke-width="1.2"/>
<circle cx="355.4" cy="983.5" r="5.55" fill="#999" stroke="#3c3c3c" stroke-width="1.2"/>
<circle cx="355.4" cy="992.3" r="5.55" fill="#999" stroke="#3c3c3c" stroke-width="1.2"/>
<circle cx="355.4" cy="998.5" r="5.55" fill="#999" stroke="#3c3c3c" stroke-width="1.2"/>
<circle cx="355.4" cy="1003.4" r="5.55" fill="#999" stroke="#3c3c3c" stroke-width="1.2"/>
<circle cx="355.4" cy="1025.5" r="5.55" fill="#999" stroke="#3c3c3c" stroke-width="1.2"/>
<circle cx="355.4" cy="1040.5" r="5.55" fill="#999" stroke="#3c3c3c" stroke-width="1.2"/>
<circle cx="380.3" cy="904.0" r="5.55" fill="#999" stroke="#3c3c3c" stroke-width="1.2"/>
<circle cx="380.3" cy="939.4" r="5.55" fill="#999" stroke="#3c3c3c" stroke-width="1.2"/>
<circle cx="380.3" cy="963.6" r="5.55" fill="#999" stroke="#3c3c3c" stroke-width="1.2"/>
<circle cx="380.3" cy="966.9" r="5.55" fill="#999" stroke="#3c3c3c" stroke-width="1.2"/>
<circle cx="380.3" cy="1031.6" r="5.55" fill="#999" stroke="#3c3c3c" stroke-width="1.2"/>
<circle cx="405.1" cy="896.5" r="5.55" fill="#999" stroke="#3c3c3c" stroke-width="1.2"/>
<circle cx="405.1" cy="929.0" r="5.55" fill="#999" stroke="#3c3c3c" stroke-width="1.2"/>
<circle cx="405.1" cy="954.4" r="5.55" fill="#999" stroke="#3c3c3c" stroke-width="1.2"/>
<circle cx="405.1" cy="989.0" r="5.55" fill="#999" stroke="#3c3c3c" stroke-width="1.2"/>
<circle cx="430.0" cy="909.3" r="5.55" fill="#999" stroke="#3c3c3c" stroke-width="1.2"/>
<circle cx="430.0" cy="933.8" r="5.55" fill="#999" stroke="#3c3c3c" stroke-width="1.2"/>
<circle cx="430.0" cy="947.7" r="5.55" fill="#999" stroke="#3c3c3c" stroke-width="1.2"/>
<circle cx="430.0" cy="953.7" r="5.55" fill="#999" stroke="#3c3c3c" stroke-width="1.2"/>
<circle cx="430.0" cy="974.2" r="5.55" fill="#999" stroke="#3c3c3c" stroke-width="1.2"/>
<circle cx="455.2" cy="938.0" r="5.55" fill="#999" stroke="#3c3c3c" stroke-width="1.2"/>
<circle cx="455.2" cy="982.0" r="5.55" fill="#999" stroke="#3c3c3c" stroke-width="1.2"/>
<circle cx="455.2" cy="1013.3" r="5.55" fill="#999" stroke="#3c3c3c" stroke-width="1.2"/>
<circle cx="480.1" cy="916.4" r="5.55" fill="#999" stroke="#3c3c3c" stroke-width="1.2"/>
<circle cx="480.1" cy="971.4" r="5.55" fill="#999" stroke="#3c3c3c" stroke-width="1.2"/>
<circle cx="480.1" cy="1013.3" r="5.55" fill="#999" stroke="#3c3c3c" stroke-width="1.2"/>
<line x1="164.60" y1="1021.50" x2="496.00" y2="938.60" stroke="#7e7e7e" stroke-width="1.9" stroke-linecap="butt"/>
<line x1="840.30" y1="841.50" x2="840.30" y2="1103.20" stroke="#d9d9d9" stroke-width="1.4" stroke-linecap="butt"/>
<line x1="932.60" y1="841.50" x2="932.60" y2="1103.20" stroke="#d9d9d9" stroke-width="1.4" stroke-linecap="butt"/>
<line x1="1025.30" y1="841.50" x2="1025.30" y2="1103.20" stroke="#d9d9d9" stroke-width="1.4" stroke-linecap="butt"/>
<line x1="1118.00" y1="841.50" x2="1118.00" y2="1103.20" stroke="#d9d9d9" stroke-width="1.4" stroke-linecap="butt"/>
<line x1="824.00" y1="900.70" x2="1152.50" y2="900.70" stroke="#d9d9d9" stroke-width="1.4" stroke-linecap="butt"/>
<line x1="824.00" y1="985.10" x2="1152.50" y2="985.10" stroke="#d9d9d9" stroke-width="1.4" stroke-linecap="butt"/>
<line x1="824.00" y1="1069.20" x2="1152.50" y2="1069.20" stroke="#d9d9d9" stroke-width="1.4" stroke-linecap="butt"/>
<line x1="824.00" y1="841.50" x2="824.00" y2="1103.90" stroke="#969696" stroke-width="1.6" stroke-linecap="butt"/>
<line x1="823.20" y1="1103.20" x2="1152.50" y2="1103.20" stroke="#b4b4b4" stroke-width="1.7" stroke-linecap="butt"/>
<circle cx="1071.2" cy="887.5" r="5.55" fill="#999" stroke="#3c3c3c" stroke-width="1.2"/>
<circle cx="1067.7" cy="891.2" r="5.55" fill="#999" stroke="#3c3c3c" stroke-width="1.2"/>
<circle cx="993.8" cy="894.8" r="5.55" fill="#999" stroke="#3c3c3c" stroke-width="1.2"/>
<circle cx="988.2" cy="902.9" r="5.55" fill="#999" stroke="#3c3c3c" stroke-width="1.2"/>
<circle cx="1005.0" cy="907.3" r="5.55" fill="#999" stroke="#3c3c3c" stroke-width="1.2"/>
<circle cx="993.8" cy="914.6" r="5.55" fill="#999" stroke="#3c3c3c" stroke-width="1.2"/>
<circle cx="1032.4" cy="912.9" r="5.55" fill="#999" stroke="#3c3c3c" stroke-width="1.2"/>
<circle cx="1039.7" cy="924.6" r="5.55" fill="#999" stroke="#3c3c3c" stroke-width="1.2"/>
<circle cx="1012.1" cy="927.9" r="5.55" fill="#999" stroke="#3c3c3c" stroke-width="1.2"/>
<circle cx="1023.1" cy="931.2" r="5.55" fill="#999" stroke="#3c3c3c" stroke-width="1.2"/>
<circle cx="1032.4" cy="932.7" r="5.55" fill="#999" stroke="#3c3c3c" stroke-width="1.2"/>
<circle cx="1052.9" cy="933.2" r="5.55" fill="#999" stroke="#3c3c3c" stroke-width="1.2"/>
<circle cx="1005.5" cy="936.0" r="5.55" fill="#999" stroke="#3c3c3c" stroke-width="1.2"/>
<circle cx="1013.2" cy="936.7" r="5.55" fill="#999" stroke="#3c3c3c" stroke-width="1.2"/>
<circle cx="1025.3" cy="942.0" r="5.55" fill="#999" stroke="#3c3c3c" stroke-width="1.2"/>
<circle cx="1019.8" cy="946.0" r="5.55" fill="#999" stroke="#3c3c3c" stroke-width="1.2"/>
<circle cx="1041.9" cy="943.8" r="5.55" fill="#999" stroke="#3c3c3c" stroke-width="1.2"/>
<circle cx="1056.7" cy="947.5" r="5.55" fill="#999" stroke="#3c3c3c" stroke-width="1.2"/>
<circle cx="999.3" cy="947.1" r="5.55" fill="#999" stroke="#3c3c3c" stroke-width="1.2"/>
<circle cx="1004.4" cy="951.5" r="5.55" fill="#999" stroke="#3c3c3c" stroke-width="1.2"/>
<circle cx="1007.7" cy="952.6" r="5.55" fill="#999" stroke="#3c3c3c" stroke-width="1.2"/>
<circle cx="1025.3" cy="953.7" r="5.55" fill="#999" stroke="#3c3c3c" stroke-width="1.2"/>
<circle cx="1041.9" cy="952.2" r="5.55" fill="#999" stroke="#3c3c3c" stroke-width="1.2"/>
<circle cx="1023.1" cy="959.2" r="5.55" fill="#999" stroke="#3c3c3c" stroke-width="1.2"/>
<circle cx="1034.2" cy="960.3" r="5.55" fill="#999" stroke="#3c3c3c" stroke-width="1.2"/>
<circle cx="1049.6" cy="961.0" r="5.55" fill="#999" stroke="#3c3c3c" stroke-width="1.2"/>
<circle cx="1089.8" cy="928.3" r="5.55" fill="#999" stroke="#3c3c3c" stroke-width="1.2"/>
<circle cx="1117.6" cy="931.0" r="5.55" fill="#999" stroke="#3c3c3c" stroke-width="1.2"/>
<circle cx="1118.1" cy="934.9" r="5.55" fill="#999" stroke="#3c3c3c" stroke-width="1.2"/>
<circle cx="1110.3" cy="955.5" r="5.55" fill="#999" stroke="#3c3c3c" stroke-width="1.2"/>
<circle cx="1104.8" cy="978.4" r="5.55" fill="#999" stroke="#3c3c3c" stroke-width="1.2"/>
<circle cx="1112.5" cy="977.5" r="5.55" fill="#999" stroke="#3c3c3c" stroke-width="1.2"/>
<circle cx="1130.6" cy="978.4" r="5.55" fill="#999" stroke="#3c3c3c" stroke-width="1.2"/>
<circle cx="919.4" cy="929.4" r="5.55" fill="#999" stroke="#3c3c3c" stroke-width="1.2"/>
<circle cx="919.8" cy="933.8" r="5.55" fill="#999" stroke="#3c3c3c" stroke-width="1.2"/>
<circle cx="957.5" cy="927.2" r="5.55" fill="#999" stroke="#3c3c3c" stroke-width="1.2"/>
<circle cx="953.8" cy="946.6" r="5.55" fill="#999" stroke="#3c3c3c" stroke-width="1.2"/>
<circle cx="950.9" cy="952.6" r="5.55" fill="#999" stroke="#3c3c3c" stroke-width="1.2"/>
<circle cx="910.1" cy="955.5" r="5.55" fill="#999" stroke="#3c3c3c" stroke-width="1.2"/>
<circle cx="914.1" cy="967.4" r="5.55" fill="#999" stroke="#3c3c3c" stroke-width="1.2"/>
<circle cx="938.1" cy="961.2" r="5.55" fill="#999" stroke="#3c3c3c" stroke-width="1.2"/>
<circle cx="950.9" cy="963.6" r="5.55" fill="#999" stroke="#3c3c3c" stroke-width="1.2"/>
<circle cx="969.7" cy="962.1" r="5.55" fill="#999" stroke="#3c3c3c" stroke-width="1.2"/>
<circle cx="973.2" cy="963.6" r="5.55" fill="#999" stroke="#3c3c3c" stroke-width="1.2"/>
<circle cx="978.5" cy="945.5" r="5.55" fill="#999" stroke="#3c3c3c" stroke-width="1.2"/>
<circle cx="1001.0" cy="962.1" r="5.55" fill="#999" stroke="#3c3c3c" stroke-width="1.2"/>
<circle cx="1002.8" cy="968.1" r="5.55" fill="#999" stroke="#3c3c3c" stroke-width="1.2"/>
<circle cx="1003.2" cy="970.9" r="5.55" fill="#999" stroke="#3c3c3c" stroke-width="1.2"/>
<circle cx="950.9" cy="972.0" r="5.55" fill="#999" stroke="#3c3c3c" stroke-width="1.2"/>
<circle cx="1015.4" cy="969.8" r="5.55" fill="#999" stroke="#3c3c3c" stroke-width="1.2"/>
<circle cx="1019.8" cy="971.8" r="5.55" fill="#999" stroke="#3c3c3c" stroke-width="1.2"/>
<circle cx="1011.6" cy="977.3" r="5.55" fill="#999" stroke="#3c3c3c" stroke-width="1.2"/>
<circle cx="1019.8" cy="979.1" r="5.55" fill="#999" stroke="#3c3c3c" stroke-width="1.2"/>
<circle cx="982.3" cy="978.0" r="5.55" fill="#999" stroke="#3c3c3c" stroke-width="1.2"/>
<circle cx="991.8" cy="981.3" r="5.55" fill="#999" stroke="#3c3c3c" stroke-width="1.2"/>
<circle cx="932.6" cy="979.1" r="5.55" fill="#999" stroke="#3c3c3c" stroke-width="1.2"/>
<circle cx="935.9" cy="980.6" r="5.55" fill="#999" stroke="#3c3c3c" stroke-width="1.2"/>
<circle cx="926.0" cy="986.8" r="5.55" fill="#999" stroke="#3c3c3c" stroke-width="1.2"/>
<circle cx="928.8" cy="990.8" r="5.55" fill="#999" stroke="#3c3c3c" stroke-width="1.2"/>
<circle cx="943.6" cy="980.2" r="5.55" fill="#999" stroke="#3c3c3c" stroke-width="1.2"/>
<circle cx="947.6" cy="983.5" r="5.55" fill="#999" stroke="#3c3c3c" stroke-width="1.2"/>
<circle cx="910.1" cy="987.3" r="5.55" fill="#999" stroke="#3c3c3c" stroke-width="1.2"/>
<circle cx="947.6" cy="994.5" r="5.55" fill="#999" stroke="#3c3c3c" stroke-width="1.2"/>
<circle cx="943.6" cy="1000.1" r="5.55" fill="#999" stroke="#3c3c3c" stroke-width="1.2"/>
<circle cx="958.6" cy="1002.3" r="5.55" fill="#999" stroke="#3c3c3c" stroke-width="1.2"/>
<circle cx="971.5" cy="995.6" r="5.55" fill="#999" stroke="#3c3c3c" stroke-width="1.2"/>
<circle cx="988.2" cy="992.3" r="5.55" fill="#999" stroke="#3c3c3c" stroke-width="1.2"/>
<circle cx="993.8" cy="993.9" r="5.55" fill="#999" stroke="#3c3c3c" stroke-width="1.2"/>
<circle cx="986.0" cy="998.5" r="5.55" fill="#999" stroke="#3c3c3c" stroke-width="1.2"/>
<circle cx="1011.6" cy="990.1" r="5.55" fill="#999" stroke="#3c3c3c" stroke-width="1.2"/>
<circle cx="1019.8" cy="986.2" r="5.55" fill="#999" stroke="#3c3c3c" stroke-width="1.2"/>
<circle cx="1025.3" cy="987.3" r="5.55" fill="#999" stroke="#3c3c3c" stroke-width="1.2"/>
<circle cx="1018.7" cy="999.0" r="5.55" fill="#999" stroke="#3c3c3c" stroke-width="1.2"/>
<circle cx="1015.4" cy="1002.3" r="5.55" fill="#999" stroke="#3c3c3c" stroke-width="1.2"/>
<circle cx="1010.3" cy="1010.0" r="5.55" fill="#999" stroke="#3c3c3c" stroke-width="1.2"/>
<circle cx="1016.1" cy="1010.4" r="5.55" fill="#999" stroke="#3c3c3c" stroke-width="1.2"/>
<circle cx="1012.1" cy="1022.8" r="5.55" fill="#999" stroke="#3c3c3c" stroke-width="1.2"/>
<circle cx="1045.2" cy="989.0" r="5.55" fill="#999" stroke="#3c3c3c" stroke-width="1.2"/>
<circle cx="1065.5" cy="996.3" r="5.55" fill="#999" stroke="#3c3c3c" stroke-width="1.2"/>
<circle cx="1073.5" cy="998.5" r="5.55" fill="#999" stroke="#3c3c3c" stroke-width="1.2"/>
<circle cx="1049.2" cy="1011.5" r="5.55" fill="#999" stroke="#3c3c3c" stroke-width="1.2"/>
<circle cx="886.2" cy="1007.8" r="5.55" fill="#999" stroke="#3c3c3c" stroke-width="1.2"/>
<circle cx="895.7" cy="1006.0" r="5.55" fill="#999" stroke="#3c3c3c" stroke-width="1.2"/>
<circle cx="910.5" cy="1016.6" r="5.55" fill="#999" stroke="#3c3c3c" stroke-width="1.2"/>
<circle cx="910.5" cy="1023.9" r="5.55" fill="#999" stroke="#3c3c3c" stroke-width="1.2"/>
<circle cx="928.8" cy="1015.5" r="5.55" fill="#999" stroke="#3c3c3c" stroke-width="1.2"/>
<circle cx="930.8" cy="1020.6" r="5.55" fill="#999" stroke="#3c3c3c" stroke-width="1.2"/>
<circle cx="952.9" cy="1016.2" r="5.55" fill="#999" stroke="#3c3c3c" stroke-width="1.2"/>
<circle cx="971.5" cy="1017.3" r="5.55" fill="#999" stroke="#3c3c3c" stroke-width="1.2"/>
<circle cx="982.7" cy="1028.8" r="5.55" fill="#999" stroke="#3c3c3c" stroke-width="1.2"/>
<circle cx="969.7" cy="1029.9" r="5.55" fill="#999" stroke="#3c3c3c" stroke-width="1.2"/>
<circle cx="963.9" cy="1033.8" r="5.55" fill="#999" stroke="#3c3c3c" stroke-width="1.2"/>
<circle cx="882.7" cy="1033.8" r="5.55" fill="#999" stroke="#3c3c3c" stroke-width="1.2"/>
<circle cx="904.3" cy="1037.2" r="5.55" fill="#999" stroke="#3c3c3c" stroke-width="1.2"/>
<circle cx="908.3" cy="1037.2" r="5.55" fill="#999" stroke="#3c3c3c" stroke-width="1.2"/>
<circle cx="864.2" cy="1060.3" r="5.55" fill="#999" stroke="#3c3c3c" stroke-width="1.2"/>
<circle cx="930.8" cy="1071.8" r="5.55" fill="#999" stroke="#3c3c3c" stroke-width="1.2"/>
<circle cx="1017.6" cy="1084.0" r="5.55" fill="#999" stroke="#3c3c3c" stroke-width="1.2"/>
<line x1="824.00" y1="1021.60" x2="1152.50" y2="929.90" stroke="#7e7e7e" stroke-width="1.9" stroke-linecap="butt"/>
<line x1="1491.40" y1="843.50" x2="1491.40" y2="1104.00" stroke="#d9d9d9" stroke-width="1.4" stroke-linecap="butt"/>
<line x1="1560.50" y1="843.50" x2="1560.50" y2="1104.00" stroke="#d9d9d9" stroke-width="1.4" stroke-linecap="butt"/>
<line x1="1630.10" y1="843.50" x2="1630.10" y2="1104.00" stroke="#d9d9d9" stroke-width="1.4" stroke-linecap="butt"/>
<line x1="1699.20" y1="843.50" x2="1699.20" y2="1104.00" stroke="#d9d9d9" stroke-width="1.4" stroke-linecap="butt"/>
<line x1="1768.70" y1="843.50" x2="1768.70" y2="1104.00" stroke="#d9d9d9" stroke-width="1.4" stroke-linecap="butt"/>
<line x1="1475.00" y1="902.90" x2="1802.20" y2="902.90" stroke="#d9d9d9" stroke-width="1.4" stroke-linecap="butt"/>
<line x1="1475.00" y1="986.20" x2="1802.20" y2="986.20" stroke="#d9d9d9" stroke-width="1.4" stroke-linecap="butt"/>
<line x1="1475.00" y1="1070.30" x2="1802.20" y2="1070.30" stroke="#d9d9d9" stroke-width="1.4" stroke-linecap="butt"/>
<line x1="1475.00" y1="843.50" x2="1475.00" y2="1104.70" stroke="#969696" stroke-width="1.6" stroke-linecap="butt"/>
<line x1="1474.20" y1="1104.00" x2="1802.20" y2="1104.00" stroke="#b4b4b4" stroke-width="1.7" stroke-linecap="butt"/>
<circle cx="1491.0" cy="888.6" r="5.55" fill="#999" stroke="#3c3c3c" stroke-width="1.2"/>
<circle cx="1491.0" cy="893.0" r="5.55" fill="#999" stroke="#3c3c3c" stroke-width="1.2"/>
<circle cx="1491.0" cy="897.0" r="5.55" fill="#999" stroke="#3c3c3c" stroke-width="1.2"/>
<circle cx="1491.0" cy="909.5" r="5.55" fill="#999" stroke="#3c3c3c" stroke-width="1.2"/>
<circle cx="1491.0" cy="916.2" r="5.55" fill="#999" stroke="#3c3c3c" stroke-width="1.2"/>
<circle cx="1491.0" cy="927.2" r="5.55" fill="#999" stroke="#3c3c3c" stroke-width="1.2"/>
<circle cx="1491.0" cy="929.4" r="5.55" fill="#999" stroke="#3c3c3c" stroke-width="1.2"/>
<circle cx="1491.0" cy="932.7" r="5.55" fill="#999" stroke="#3c3c3c" stroke-width="1.2"/>
<circle cx="1491.0" cy="937.1" r="5.55" fill="#999" stroke="#3c3c3c" stroke-width="1.2"/>
<circle cx="1491.0" cy="942.7" r="5.55" fill="#999" stroke="#3c3c3c" stroke-width="1.2"/>
<circle cx="1491.0" cy="948.2" r="5.55" fill="#999" stroke="#3c3c3c" stroke-width="1.2"/>
<circle cx="1491.0" cy="952.6" r="5.55" fill="#999" stroke="#3c3c3c" stroke-width="1.2"/>
<circle cx="1491.0" cy="959.2" r="5.55" fill="#999" stroke="#3c3c3c" stroke-width="1.2"/>
<circle cx="1491.0" cy="965.8" r="5.55" fill="#999" stroke="#3c3c3c" stroke-width="1.2"/>
<circle cx="1491.0" cy="972.5" r="5.55" fill="#999" stroke="#3c3c3c" stroke-width="1.2"/>
<circle cx="1491.0" cy="976.9" r="5.55" fill="#999" stroke="#3c3c3c" stroke-width="1.2"/>
<circle cx="1491.0" cy="981.3" r="5.55" fill="#999" stroke="#3c3c3c" stroke-width="1.2"/>
<circle cx="1491.0" cy="985.7" r="5.55" fill="#999" stroke="#3c3c3c" stroke-width="1.2"/>
<circle cx="1491.0" cy="992.3" r="5.55" fill="#999" stroke="#3c3c3c" stroke-width="1.2"/>
<circle cx="1491.0" cy="1012.2" r="5.55" fill="#999" stroke="#3c3c3c" stroke-width="1.2"/>
<circle cx="1494.3" cy="915.1" r="5.55" fill="#999" stroke="#3c3c3c" stroke-width="1.2"/>
<circle cx="1494.3" cy="938.9" r="5.55" fill="#999" stroke="#3c3c3c" stroke-width="1.2"/>
<circle cx="1494.3" cy="962.5" r="5.55" fill="#999" stroke="#3c3c3c" stroke-width="1.2"/>
<circle cx="1511.9" cy="904.0" r="5.55" fill="#999" stroke="#3c3c3c" stroke-width="1.2"/>
<circle cx="1515.3" cy="930.1" r="5.55" fill="#999" stroke="#3c3c3c" stroke-width="1.2"/>
<circle cx="1508.6" cy="934.9" r="5.55" fill="#999" stroke="#3c3c3c" stroke-width="1.2"/>
<circle cx="1508.6" cy="936.7" r="5.55" fill="#999" stroke="#3c3c3c" stroke-width="1.2"/>
<circle cx="1502.7" cy="947.1" r="5.55" fill="#999" stroke="#3c3c3c" stroke-width="1.2"/>
<circle cx="1515.3" cy="948.2" r="5.55" fill="#999" stroke="#3c3c3c" stroke-width="1.2"/>
<circle cx="1498.3" cy="953.7" r="5.55" fill="#999" stroke="#3c3c3c" stroke-width="1.2"/>
<circle cx="1499.8" cy="964.1" r="5.55" fill="#999" stroke="#3c3c3c" stroke-width="1.2"/>
<circle cx="1508.6" cy="958.8" r="5.55" fill="#999" stroke="#3c3c3c" stroke-width="1.2"/>
<circle cx="1536.2" cy="931.0" r="5.55" fill="#999" stroke="#3c3c3c" stroke-width="1.2"/>
<circle cx="1557.2" cy="929.4" r="5.55" fill="#999" stroke="#3c3c3c" stroke-width="1.2"/>
<circle cx="1529.2" cy="961.4" r="5.55" fill="#999" stroke="#3c3c3c" stroke-width="1.2"/>
<circle cx="1536.2" cy="960.3" r="5.55" fill="#999" stroke="#3c3c3c" stroke-width="1.2"/>
<circle cx="1540.2" cy="966.3" r="5.55" fill="#999" stroke="#3c3c3c" stroke-width="1.2"/>
<circle cx="1557.2" cy="964.3" r="5.55" fill="#999" stroke="#3c3c3c" stroke-width="1.2"/>
<circle cx="1584.8" cy="968.5" r="5.55" fill="#999" stroke="#3c3c3c" stroke-width="1.2"/>
<circle cx="1522.5" cy="972.9" r="5.55" fill="#999" stroke="#3c3c3c" stroke-width="1.2"/>
<circle cx="1526.3" cy="980.2" r="5.55" fill="#999" stroke="#3c3c3c" stroke-width="1.2"/>
<circle cx="1536.2" cy="979.5" r="5.55" fill="#999" stroke="#3c3c3c" stroke-width="1.2"/>
<circle cx="1536.2" cy="987.9" r="5.55" fill="#999" stroke="#3c3c3c" stroke-width="1.2"/>
<circle cx="1501.4" cy="979.5" r="5.55" fill="#999" stroke="#3c3c3c" stroke-width="1.2"/>
<circle cx="1505.3" cy="987.5" r="5.55" fill="#999" stroke="#3c3c3c" stroke-width="1.2"/>
<circle cx="1509.7" cy="989.0" r="5.55" fill="#999" stroke="#3c3c3c" stroke-width="1.2"/>
<circle cx="1509.3" cy="1000.1" r="5.55" fill="#999" stroke="#3c3c3c" stroke-width="1.2"/>
<circle cx="1515.3" cy="1003.4" r="5.55" fill="#999" stroke="#3c3c3c" stroke-width="1.2"/>
<circle cx="1501.4" cy="999.4" r="5.55" fill="#999" stroke="#3c3c3c" stroke-width="1.2"/>
<circle cx="1532.9" cy="997.2" r="5.55" fill="#999" stroke="#3c3c3c" stroke-width="1.2"/>
<circle cx="1553.9" cy="989.7" r="5.55" fill="#999" stroke="#3c3c3c" stroke-width="1.2"/>
<circle cx="1549.9" cy="997.2" r="5.55" fill="#999" stroke="#3c3c3c" stroke-width="1.2"/>
<circle cx="1563.8" cy="994.5" r="5.55" fill="#999" stroke="#3c3c3c" stroke-width="1.2"/>
<circle cx="1560.5" cy="1003.4" r="5.55" fill="#999" stroke="#3c3c3c" stroke-width="1.2"/>
<circle cx="1573.8" cy="1001.6" r="5.55" fill="#999" stroke="#3c3c3c" stroke-width="1.2"/>
<circle cx="1529.2" cy="1009.6" r="5.55" fill="#999" stroke="#3c3c3c" stroke-width="1.2"/>
<circle cx="1553.5" cy="1012.6" r="5.55" fill="#999" stroke="#3c3c3c" stroke-width="1.2"/>
<circle cx="1501.4" cy="1011.8" r="5.55" fill="#999" stroke="#3c3c3c" stroke-width="1.2"/>
<circle cx="1491.0" cy="1011.8" r="5.55" fill="#999" stroke="#3c3c3c" stroke-width="1.2"/>
<circle cx="1511.9" cy="1016.6" r="5.55" fill="#999" stroke="#3c3c3c" stroke-width="1.2"/>
<circle cx="1516.4" cy="1017.7" r="5.55" fill="#999" stroke="#3c3c3c" stroke-width="1.2"/>
<circle cx="1511.9" cy="1023.7" r="5.55" fill="#999" stroke="#3c3c3c" stroke-width="1.2"/>
<circle cx="1536.2" cy="1031.0" r="5.55" fill="#999" stroke="#3c3c3c" stroke-width="1.2"/>
<circle cx="1542.9" cy="1034.7" r="5.55" fill="#999" stroke="#3c3c3c" stroke-width="1.2"/>
<circle cx="1560.5" cy="1025.5" r="5.55" fill="#999" stroke="#3c3c3c" stroke-width="1.2"/>
<circle cx="1580.8" cy="1038.7" r="5.55" fill="#999" stroke="#3c3c3c" stroke-width="1.2"/>
<circle cx="1602.0" cy="988.6" r="5.55" fill="#999" stroke="#3c3c3c" stroke-width="1.2"/>
<circle cx="1619.7" cy="1029.4" r="5.55" fill="#999" stroke="#3c3c3c" stroke-width="1.2"/>
<circle cx="1619.7" cy="1034.7" r="5.55" fill="#999" stroke="#3c3c3c" stroke-width="1.2"/>
<circle cx="1626.3" cy="1038.3" r="5.55" fill="#999" stroke="#3c3c3c" stroke-width="1.2"/>
<circle cx="1633.4" cy="1018.4" r="5.55" fill="#999" stroke="#3c3c3c" stroke-width="1.2"/>
<circle cx="1637.4" cy="1021.5" r="5.55" fill="#999" stroke="#3c3c3c" stroke-width="1.2"/>
<circle cx="1640.4" cy="1018.4" r="5.55" fill="#999" stroke="#3c3c3c" stroke-width="1.2"/>
<circle cx="1671.4" cy="996.1" r="5.55" fill="#999" stroke="#3c3c3c" stroke-width="1.2"/>
<circle cx="1695.6" cy="979.1" r="5.55" fill="#999" stroke="#3c3c3c" stroke-width="1.2"/>
<circle cx="1685.3" cy="935.4" r="5.55" fill="#999" stroke="#3c3c3c" stroke-width="1.2"/>
<circle cx="1699.2" cy="1007.4" r="5.55" fill="#999" stroke="#3c3c3c" stroke-width="1.2"/>
<circle cx="1764.7" cy="982.0" r="5.55" fill="#999" stroke="#3c3c3c" stroke-width="1.2"/>
<circle cx="1772.0" cy="1061.2" r="5.55" fill="#999" stroke="#3c3c3c" stroke-width="1.2"/>
<circle cx="1605.8" cy="1072.9" r="5.55" fill="#999" stroke="#3c3c3c" stroke-width="1.2"/>
<circle cx="1529.2" cy="1085.1" r="5.55" fill="#999" stroke="#3c3c3c" stroke-width="1.2"/>
<line x1="1475.00" y1="959.10" x2="1802.20" y2="1054.40" stroke="#7e7e7e" stroke-width="1.9" stroke-linecap="butt"/>
<text transform="translate(23.30,53.38) scale(0.8777,1)" x="-0.62" font-size="40.00" font-weight="bold" fill="#000">a</text>
<text transform="translate(24.50,437.24) scale(0.9466,1)" x="-2.62" font-size="42.00" font-weight="bold" fill="#000">b</text>
<text transform="translate(313.30,52.77) scale(0.9898,1)" x="-1.91" font-size="30.54" font-weight="normal" fill="#000">1,800</text>
<text transform="translate(313.30,143.72) scale(0.9898,1)" x="-1.91" font-size="30.54" font-weight="normal">1,600</text>
<text transform="translate(313.30,234.92) scale(0.9898,1)" x="-1.91" font-size="30.54" font-weight="normal">1,400</text>
<text transform="translate(313.30,325.82) scale(0.9898,1)" x="-1.91" font-size="30.54" font-weight="normal">1,200</text>
<text transform="translate(272.90,289.50) rotate(-90) scale(0.9733,1)" x="0.00" font-size="31.29" font-weight="bold">Volume [mm3]</text>
<text transform="translate(568.30,41.42) scale(0.9902,1)" x="-1.93" font-size="30.89" font-weight="bold" fill="#000">p&lt;0.001</text>
<text transform="translate(622.90,290.90) scale(0.7341,1)" x="-2.12" font-size="33.85" font-weight="bold" fill="#000">L</text>
<text transform="translate(464.00,370.60) scale(0.9536,1)" x="0.00" font-size="30.58" font-weight="normal" fill="#000">VP/VLBW</text>
<text transform="translate(735.00,370.60) scale(0.9087,1)" x="-2.39" font-size="30.58" font-weight="normal" fill="#000">FT</text>
<text transform="translate(982.40,56.32) scale(0.9916,1)" x="-1.91" font-size="30.61" font-weight="normal" fill="#000">1,800</text>
<text transform="translate(982.40,146.52) scale(0.9916,1)" x="-1.91" font-size="30.61" font-weight="normal">1,600</text>
<text transform="translate(982.40,236.72) scale(0.9916,1)" x="-1.91" font-size="30.61" font-weight="normal">1,400</text>
<text transform="translate(982.40,326.42) scale(0.9916,1)" x="-1.91" font-size="30.61" font-weight="normal">1,200</text>
<text transform="translate(1236.10,32.91) scale(0.9751,1)" x="-1.95" font-size="31.17" font-weight="bold" fill="#000">p&lt;0.001</text>
<text transform="translate(1292.50,296.80) scale(0.8325,1)" x="-2.10" font-size="33.56" font-weight="bold" fill="#000">R</text>
<text transform="translate(1134.40,370.60) scale(0.9433,1)" x="0.00" font-size="30.58" font-weight="normal" fill="#000">VP/VLBW</text>
<text transform="translate(1405.00,370.60) scale(0.9029,1)" x="-2.39" font-size="30.58" font-weight="normal" fill="#000">FT</text>
<text transform="translate(89.60,557.85) scale(0.9946,1)" x="-1.36" font-size="29.08" font-weight="normal" fill="#000">2,000</text>
<text transform="translate(90.05,642.85) scale(0.9946,1)" x="-1.82" font-size="29.08" font-weight="normal">1,500</text>
<text transform="translate(90.05,727.85) scale(0.9946,1)" x="-1.82" font-size="29.08" font-weight="normal">1,000</text>
<text transform="translate(191.70,780.66) scale(1.0068,1)" x="-1.32" font-size="28.10" font-weight="normal" fill="#000">25</text>
<text transform="translate(253.80,780.66) scale(1.0068,1)" x="-1.32" font-size="28.10" font-weight="normal">28</text>
<text transform="translate(315.56,780.66) scale(1.0068,1)" x="-0.88" font-size="28.10" font-weight="normal">30</text>
<text transform="translate(377.98,780.66) scale(1.0068,1)" x="-0.88" font-size="28.10" font-weight="normal">33</text>
<text transform="translate(440.18,780.66) scale(1.0068,1)" x="-0.88" font-size="28.10" font-weight="normal">35</text>
<text transform="translate(256.20,826.98) scale(1.0196,1)" x="-0.84" font-size="26.99" font-weight="bold" fill="#000">GA [weeks]</text>
<text transform="translate(71.20,713.20) rotate(-90) scale(0.9944,1)" x="0.00" font-size="28.87" font-weight="bold">Volume [mm3]</text>
<text transform="translate(524.60,506.10) scale(1.0562,1)" x="-2.36" font-size="30.15" font-weight="normal" fill="#000">Left:</text>
<text transform="translate(524.60,548.23) scale(1.0071,1)" x="-1.90" font-size="30.33" font-weight="normal" fill="#000">r=0.367</text>
<text transform="translate(524.40,587.04) scale(1.0180,1)" x="-1.85" font-size="29.63" font-weight="bold" fill="#000">p&lt;0.001</text>
<text transform="translate(748.60,558.95) scale(0.9946,1)" x="-1.36" font-size="29.08" font-weight="normal" fill="#000">2,000</text>
<text transform="translate(749.05,643.45) scale(0.9946,1)" x="-1.82" font-size="29.08" font-weight="normal">1,500</text>
<text transform="translate(749.05,727.45) scale(0.9946,1)" x="-1.82" font-size="29.08" font-weight="normal">1,000</text>
<text transform="translate(817.30,780.07) scale(1.0282,1)" x="-0.87" font-size="27.69" font-weight="normal" fill="#000">500</text>
<text transform="translate(898.22,780.07) scale(1.0282,1)" x="-1.73" font-size="27.69" font-weight="normal">1,000</text>
<text transform="translate(990.92,780.07) scale(1.0282,1)" x="-1.73" font-size="27.69" font-weight="normal">1,500</text>
<text transform="translate(1083.40,780.07) scale(1.0282,1)" x="-1.30" font-size="27.69" font-weight="normal">2,000</text>
<text transform="translate(946.00,825.80) scale(1.0179,1)" x="-1.66" font-size="26.60" font-weight="bold" fill="#000">BW [g]</text>
<text transform="translate(730.70,712.90) rotate(-90) scale(0.9873,1)" x="0.00" font-size="28.87" font-weight="bold">Volume [mm3]</text>
<text transform="translate(1179.40,504.90) scale(1.0604,1)" x="-2.40" font-size="30.72" font-weight="normal" fill="#000">Left:</text>
<text transform="translate(1179.40,546.63) scale(1.0250,1)" x="-1.90" font-size="30.33" font-weight="normal" fill="#000">r=0.106</text>
<text transform="translate(1179.40,585.92) scale(0.9873,1)" x="-1.94" font-size="31.03" font-weight="normal" fill="#000">p=0.304</text>
<text transform="translate(1402.30,559.15) scale(0.9946,1)" x="-1.36" font-size="29.08" font-weight="normal" fill="#000">2,000</text>
<text transform="translate(1402.75,643.45) scale(0.9946,1)" x="-1.82" font-size="29.08" font-weight="normal">1,500</text>
<text transform="translate(1402.75,727.35) scale(0.9946,1)" x="-1.82" font-size="29.08" font-weight="normal">1,000</text>
<text transform="translate(1486.00,779.68) scale(1.1058,1)" x="-0.85" font-size="27.13" font-weight="normal" fill="#000">0</text>
<text transform="translate(1547.69,779.68) scale(1.1058,1)" x="-1.27" font-size="27.13" font-weight="normal">20</text>
<text transform="translate(1616.82,779.68) scale(1.1058,1)" x="-0.42" font-size="27.13" font-weight="normal">40</text>
<text transform="translate(1686.79,779.68) scale(1.1058,1)" x="-1.27" font-size="27.13" font-weight="normal">60</text>
<text transform="translate(1756.06,779.68) scale(1.1058,1)" x="-0.85" font-size="27.13" font-weight="normal">80</text>
<text transform="translate(1526.20,825.80) scale(1.0461,1)" x="0.00" font-size="26.60" font-weight="bold" fill="#000">Ventilation [days]</text>
<text transform="translate(1384.10,712.70) rotate(-90) scale(1.0000,1)" x="0.00" font-size="28.44" font-weight="bold">Volume [mm3]</text>
<text transform="translate(1831.90,504.90) scale(1.0440,1)" x="-2.40" font-size="30.72" font-weight="normal" fill="#000">Left:</text>
<text transform="translate(1831.70,545.83) scale(1.0221,1)" x="-1.88" font-size="30.05" font-weight="normal" fill="#000">r=-0.428</text>
<text transform="translate(1831.50,585.43) scale(1.0019,1)" x="-1.90" font-size="30.33" font-weight="bold" fill="#000">p&lt;0.001</text>
<text transform="translate(89.60,917.45) scale(0.9946,1)" x="-1.36" font-size="29.08" font-weight="normal" fill="#000">2,000</text>
<text transform="translate(90.05,1002.05) scale(0.9946,1)" x="-1.82" font-size="29.08" font-weight="normal">1,500</text>
<text transform="translate(90.05,1086.85) scale(0.9946,1)" x="-1.82" font-size="29.08" font-weight="normal">1,000</text>
<text transform="translate(191.70,1139.96) scale(1.0068,1)" x="-1.32" font-size="28.10" font-weight="normal" fill="#000">25</text>
<text transform="translate(253.80,1139.96) scale(1.0068,1)" x="-1.32" font-size="28.10" font-weight="normal">28</text>
<text transform="translate(315.56,1139.96) scale(1.0068,1)" x="-0.88" font-size="28.10" font-weight="normal">30</text>
<text transform="translate(377.98,1139.96) scale(1.0068,1)" x="-0.88" font-size="28.10" font-weight="normal">33</text>
<text transform="translate(440.18,1139.96) scale(1.0068,1)" x="-0.88" font-size="28.10" font-weight="normal">35</text>
<text transform="translate(256.20,1186.28) scale(1.0196,1)" x="-0.84" font-size="26.99" font-weight="bold" fill="#000">GA [weeks]</text>
<text transform="translate(71.10,1072.50) rotate(-90) scale(0.9960,1)" x="0.00" font-size="28.87" font-weight="bold">Volume [mm3]</text>
<text transform="translate(524.70,878.30) scale(1.0104,1)" x="-2.37" font-size="30.29" font-weight="normal" fill="#000">Right:</text>
<text transform="translate(524.40,919.43) scale(1.0184,1)" x="-1.88" font-size="30.05" font-weight="normal" fill="#000">r=0.317</text>
<text transform="translate(524.40,958.63) scale(0.9992,1)" x="-1.90" font-size="30.33" font-weight="bold" fill="#000">p=0.002</text>
<text transform="translate(749.00,915.15) scale(0.9946,1)" x="-1.36" font-size="29.08" font-weight="normal" fill="#000">2,000</text>
<text transform="translate(749.45,999.55) scale(0.9946,1)" x="-1.82" font-size="29.08" font-weight="normal">1,500</text>
<text transform="translate(749.45,1083.65) scale(0.9946,1)" x="-1.82" font-size="29.08" font-weight="normal">1,000</text>
<text transform="translate(817.30,1136.17) scale(1.0282,1)" x="-0.87" font-size="27.69" font-weight="normal" fill="#000">500</text>
<text transform="translate(898.22,1136.17) scale(1.0282,1)" x="-1.73" font-size="27.69" font-weight="normal">1,000</text>
<text transform="translate(990.92,1136.17) scale(1.0282,1)" x="-1.73" font-size="27.69" font-weight="normal">1,500</text>
<text transform="translate(1083.40,1136.17) scale(1.0282,1)" x="-1.30" font-size="27.69" font-weight="normal">2,000</text>
<text transform="translate(946.00,1182.00) scale(1.0179,1)" x="-1.66" font-size="26.60" font-weight="bold" fill="#000">BW [g]</text>
<text transform="translate(731.30,1069.00) rotate(-90) scale(0.9766,1)" x="0.00" font-size="29.16" font-weight="bold">Volume [mm3]</text>
<text transform="translate(1179.40,877.00) scale(1.0371,1)" x="-2.33" font-size="29.87" font-weight="normal" fill="#000">Right:</text>
<text transform="translate(1179.40,918.23) scale(1.0202,1)" x="-1.90" font-size="30.33" font-weight="normal" fill="#000">r=0.220</text>
<text transform="translate(1179.10,957.03) scale(1.0019,1)" x="-1.90" font-size="30.33" font-weight="bold" fill="#000">p=0.031</text>
<text transform="translate(1400.00,917.35) scale(0.9946,1)" x="-1.36" font-size="29.08" font-weight="normal" fill="#000">2,000</text>
<text transform="translate(1400.45,1000.65) scale(0.9946,1)" x="-1.82" font-size="29.08" font-weight="normal">1,500</text>
<text transform="translate(1400.45,1084.75) scale(0.9946,1)" x="-1.82" font-size="29.08" font-weight="normal">1,000</text>
<text transform="translate(1483.90,1136.68) scale(1.1058,1)" x="-0.85" font-size="27.13" font-weight="normal" fill="#000">0</text>
<text transform="translate(1544.89,1136.68) scale(1.1058,1)" x="-1.27" font-size="27.13" font-weight="normal">20</text>
<text transform="translate(1614.02,1136.68) scale(1.1058,1)" x="-0.42" font-size="27.13" font-weight="normal">40</text>
<text transform="translate(1683.59,1136.68) scale(1.1058,1)" x="-1.27" font-size="27.13" font-weight="normal">60</text>
<text transform="translate(1752.86,1136.68) scale(1.1058,1)" x="-0.85" font-size="27.13" font-weight="normal">80</text>
<text transform="translate(1524.50,1182.70) scale(1.0447,1)" x="0.00" font-size="26.60" font-weight="bold" fill="#000">Ventilation [days]</text>
<text transform="translate(1382.70,1070.50) rotate(-90) scale(0.9804,1)" x="0.00" font-size="29.01" font-weight="bold">Volume [mm3]</text>
<text transform="translate(1831.70,876.70) scale(0.9938,1)" x="-2.42" font-size="31.00" font-weight="normal" fill="#000">Right:</text>
<text transform="translate(1831.50,918.23) scale(1.0100,1)" x="-1.90" font-size="30.33" font-weight="normal" fill="#000">r=-0.413</text>
<text transform="translate(1831.50,957.03) scale(1.0019,1)" x="-1.90" font-size="30.33" font-weight="bold" fill="#000">p&lt;0.001</text>
</svg>
</body></html>
